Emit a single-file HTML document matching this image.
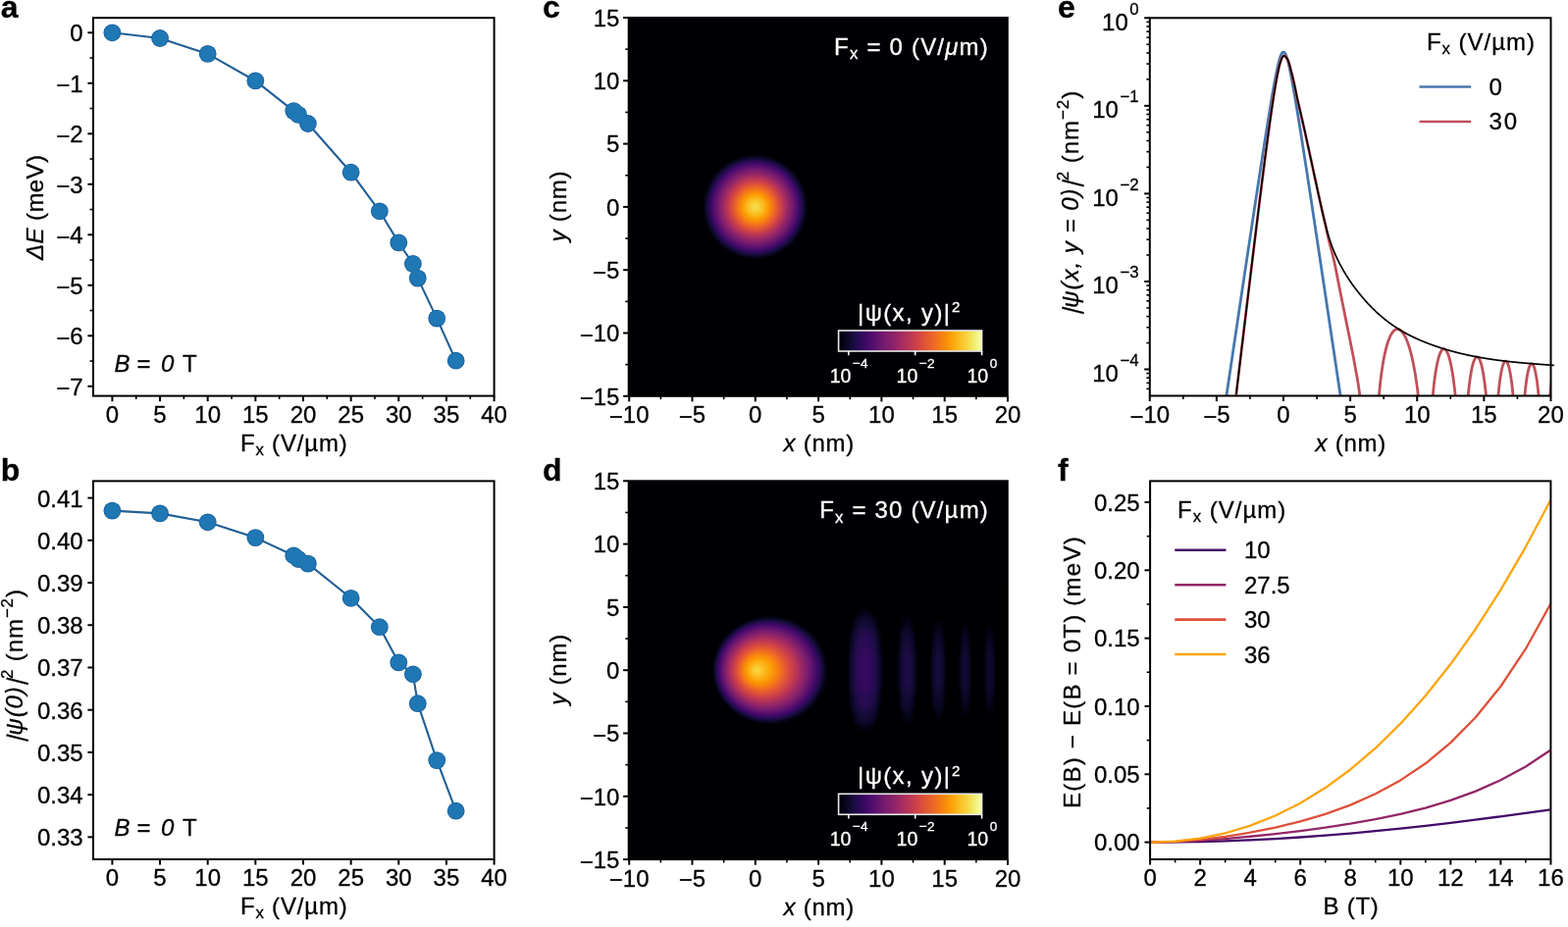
<!DOCTYPE html>
<html><head><meta charset="utf-8"><title>Figure</title><style>html,body{margin:0;padding:0;background:#fff;}svg{display:block;}text{font-family:"Liberation Sans",Arial,Helvetica,sans-serif;stroke:currentColor;stroke-width:0.3px;}</style></head><body>
<svg width="1598" height="945" viewBox="0 0 1598 945" font-family='"Liberation Sans", Arial, Helvetica, sans-serif'><defs><radialGradient id="gc" gradientUnits="userSpaceOnUse" cx="769.8" cy="210.9" r="53.88"><stop offset="0" stop-color="#f5db4c"/><stop offset="0.03" stop-color="#f5d949"/><stop offset="0.05" stop-color="#f6d543"/><stop offset="0.08" stop-color="#f8cf3a"/><stop offset="0.1" stop-color="#f9c932"/><stop offset="0.12" stop-color="#fac42a"/><stop offset="0.15" stop-color="#fbbc21"/><stop offset="0.18" stop-color="#fcb216"/><stop offset="0.2" stop-color="#fca80d"/><stop offset="0.23" stop-color="#fc9f07"/><stop offset="0.25" stop-color="#fb9606"/><stop offset="0.28" stop-color="#f98c0a"/><stop offset="0.3" stop-color="#f78212"/><stop offset="0.33" stop-color="#f37819"/><stop offset="0.35" stop-color="#ef6e21"/><stop offset="0.38" stop-color="#eb6429"/><stop offset="0.4" stop-color="#e55c30"/><stop offset="0.43" stop-color="#de5238"/><stop offset="0.45" stop-color="#d74b3f"/><stop offset="0.48" stop-color="#ce4347"/><stop offset="0.5" stop-color="#c63d4d"/><stop offset="0.53" stop-color="#bc3754"/><stop offset="0.55" stop-color="#b1325a"/><stop offset="0.58" stop-color="#a82e5f"/><stop offset="0.6" stop-color="#9d2964"/><stop offset="0.62" stop-color="#932667"/><stop offset="0.65" stop-color="#88226a"/><stop offset="0.68" stop-color="#7f1e6c"/><stop offset="0.7" stop-color="#751b6e"/><stop offset="0.73" stop-color="#6a176e"/><stop offset="0.75" stop-color="#5f136e"/><stop offset="0.78" stop-color="#550f6d"/><stop offset="0.8" stop-color="#4a0c6b"/><stop offset="0.83" stop-color="#3e0966"/><stop offset="0.85" stop-color="#310a5c"/><stop offset="0.88" stop-color="#240c4f"/><stop offset="0.9" stop-color="#190c3e"/><stop offset="0.93" stop-color="#10092d"/><stop offset="0.95" stop-color="#08051d"/><stop offset="0.98" stop-color="#02020c"/><stop offset="1" stop-color="#000004"/></radialGradient><radialGradient id="gd" cx="0.5" cy="0.5" r="0.5" fx="0.38" fy="0.5"><stop offset="0" stop-color="#f6d746"/><stop offset="0.03" stop-color="#f7d13d"/><stop offset="0.05" stop-color="#f9cb35"/><stop offset="0.08" stop-color="#fac62d"/><stop offset="0.1" stop-color="#fac026"/><stop offset="0.12" stop-color="#fbb81d"/><stop offset="0.15" stop-color="#fcb014"/><stop offset="0.18" stop-color="#fcaa0f"/><stop offset="0.2" stop-color="#fca108"/><stop offset="0.23" stop-color="#fb9906"/><stop offset="0.25" stop-color="#fa9207"/><stop offset="0.28" stop-color="#f8890c"/><stop offset="0.3" stop-color="#f68013"/><stop offset="0.33" stop-color="#f3761b"/><stop offset="0.35" stop-color="#ef6e21"/><stop offset="0.38" stop-color="#eb6429"/><stop offset="0.4" stop-color="#e55c30"/><stop offset="0.43" stop-color="#e05536"/><stop offset="0.45" stop-color="#d94d3d"/><stop offset="0.48" stop-color="#d34743"/><stop offset="0.5" stop-color="#cb4149"/><stop offset="0.53" stop-color="#c33b4f"/><stop offset="0.55" stop-color="#bc3754"/><stop offset="0.58" stop-color="#b3325a"/><stop offset="0.6" stop-color="#a92e5e"/><stop offset="0.62" stop-color="#9f2a63"/><stop offset="0.65" stop-color="#952667"/><stop offset="0.68" stop-color="#8a226a"/><stop offset="0.7" stop-color="#801f6c"/><stop offset="0.73" stop-color="#751b6e"/><stop offset="0.75" stop-color="#6a176e"/><stop offset="0.78" stop-color="#5f136e"/><stop offset="0.8" stop-color="#540f6d"/><stop offset="0.83" stop-color="#490b6a"/><stop offset="0.85" stop-color="#3b0964"/><stop offset="0.88" stop-color="#2f0a5b"/><stop offset="0.9" stop-color="#210c4a"/><stop offset="0.93" stop-color="#150b37"/><stop offset="0.95" stop-color="#0b0724"/><stop offset="0.98" stop-color="#040312"/><stop offset="1" stop-color="#000004"/></radialGradient><linearGradient id="gfx" x1="0" y1="0" x2="1" y2="0"><stop offset="0" stop-color="#000000"/><stop offset="0.04" stop-color="#000000"/><stop offset="0.04" stop-color="#010000"/><stop offset="0.05" stop-color="#030000"/><stop offset="0.05" stop-color="#060000"/><stop offset="0.05" stop-color="#080000"/><stop offset="0.05" stop-color="#0a0000"/><stop offset="0.05" stop-color="#0c0000"/><stop offset="0.06" stop-color="#0e0000"/><stop offset="0.06" stop-color="#100000"/><stop offset="0.06" stop-color="#120000"/><stop offset="0.06" stop-color="#130000"/><stop offset="0.07" stop-color="#150000"/><stop offset="0.07" stop-color="#160000"/><stop offset="0.07" stop-color="#180000"/><stop offset="0.07" stop-color="#190000"/><stop offset="0.08" stop-color="#1a0000"/><stop offset="0.08" stop-color="#1c0000"/><stop offset="0.08" stop-color="#1d0000"/><stop offset="0.08" stop-color="#1e0000"/><stop offset="0.09" stop-color="#1f0000"/><stop offset="0.09" stop-color="#200000"/><stop offset="0.09" stop-color="#210000"/><stop offset="0.09" stop-color="#220000"/><stop offset="0.1" stop-color="#230000"/><stop offset="0.1" stop-color="#240000"/><stop offset="0.1" stop-color="#240000"/><stop offset="0.1" stop-color="#250000"/><stop offset="0.11" stop-color="#260000"/><stop offset="0.11" stop-color="#260000"/><stop offset="0.11" stop-color="#270000"/><stop offset="0.11" stop-color="#280000"/><stop offset="0.11" stop-color="#280000"/><stop offset="0.12" stop-color="#290000"/><stop offset="0.12" stop-color="#290000"/><stop offset="0.12" stop-color="#290000"/><stop offset="0.12" stop-color="#2a0000"/><stop offset="0.13" stop-color="#2a0000"/><stop offset="0.13" stop-color="#2a0000"/><stop offset="0.13" stop-color="#2b0000"/><stop offset="0.13" stop-color="#2b0000"/><stop offset="0.14" stop-color="#2b0000"/><stop offset="0.14" stop-color="#2b0000"/><stop offset="0.14" stop-color="#2b0000"/><stop offset="0.14" stop-color="#2c0000"/><stop offset="0.15" stop-color="#2c0000"/><stop offset="0.15" stop-color="#2c0000"/><stop offset="0.15" stop-color="#2c0000"/><stop offset="0.15" stop-color="#2c0000"/><stop offset="0.16" stop-color="#2c0000"/><stop offset="0.16" stop-color="#2c0000"/><stop offset="0.16" stop-color="#2c0000"/><stop offset="0.16" stop-color="#2b0000"/><stop offset="0.16" stop-color="#2b0000"/><stop offset="0.17" stop-color="#2b0000"/><stop offset="0.17" stop-color="#2b0000"/><stop offset="0.17" stop-color="#2a0000"/><stop offset="0.17" stop-color="#2a0000"/><stop offset="0.18" stop-color="#2a0000"/><stop offset="0.18" stop-color="#290000"/><stop offset="0.18" stop-color="#290000"/><stop offset="0.18" stop-color="#290000"/><stop offset="0.19" stop-color="#280000"/><stop offset="0.19" stop-color="#280000"/><stop offset="0.19" stop-color="#270000"/><stop offset="0.19" stop-color="#260000"/><stop offset="0.2" stop-color="#260000"/><stop offset="0.2" stop-color="#250000"/><stop offset="0.2" stop-color="#240000"/><stop offset="0.2" stop-color="#240000"/><stop offset="0.21" stop-color="#230000"/><stop offset="0.21" stop-color="#220000"/><stop offset="0.21" stop-color="#210000"/><stop offset="0.21" stop-color="#200000"/><stop offset="0.21" stop-color="#1f0000"/><stop offset="0.22" stop-color="#1e0000"/><stop offset="0.22" stop-color="#1d0000"/><stop offset="0.22" stop-color="#1c0000"/><stop offset="0.22" stop-color="#1b0000"/><stop offset="0.23" stop-color="#190000"/><stop offset="0.23" stop-color="#180000"/><stop offset="0.23" stop-color="#170000"/><stop offset="0.23" stop-color="#150000"/><stop offset="0.24" stop-color="#140000"/><stop offset="0.24" stop-color="#120000"/><stop offset="0.24" stop-color="#100000"/><stop offset="0.24" stop-color="#0e0000"/><stop offset="0.25" stop-color="#0d0000"/><stop offset="0.25" stop-color="#0b0000"/><stop offset="0.25" stop-color="#080000"/><stop offset="0.25" stop-color="#060000"/><stop offset="0.26" stop-color="#040000"/><stop offset="0.26" stop-color="#010000"/><stop offset="0.26" stop-color="#000000"/><stop offset="0.34" stop-color="#000000"/><stop offset="0.34" stop-color="#020000"/><stop offset="0.34" stop-color="#040000"/><stop offset="0.34" stop-color="#070000"/><stop offset="0.35" stop-color="#090000"/><stop offset="0.35" stop-color="#0b0000"/><stop offset="0.35" stop-color="#0d0000"/><stop offset="0.35" stop-color="#0f0000"/><stop offset="0.36" stop-color="#110000"/><stop offset="0.36" stop-color="#130000"/><stop offset="0.36" stop-color="#140000"/><stop offset="0.36" stop-color="#150000"/><stop offset="0.37" stop-color="#170000"/><stop offset="0.37" stop-color="#180000"/><stop offset="0.37" stop-color="#190000"/><stop offset="0.37" stop-color="#1a0000"/><stop offset="0.37" stop-color="#1b0000"/><stop offset="0.38" stop-color="#1c0000"/><stop offset="0.38" stop-color="#1c0000"/><stop offset="0.38" stop-color="#1d0000"/><stop offset="0.38" stop-color="#1d0000"/><stop offset="0.39" stop-color="#1e0000"/><stop offset="0.39" stop-color="#1e0000"/><stop offset="0.39" stop-color="#1f0000"/><stop offset="0.39" stop-color="#1f0000"/><stop offset="0.4" stop-color="#1f0000"/><stop offset="0.4" stop-color="#1f0000"/><stop offset="0.4" stop-color="#1f0000"/><stop offset="0.4" stop-color="#1f0000"/><stop offset="0.41" stop-color="#1f0000"/><stop offset="0.41" stop-color="#1f0000"/><stop offset="0.41" stop-color="#1e0000"/><stop offset="0.41" stop-color="#1e0000"/><stop offset="0.42" stop-color="#1e0000"/><stop offset="0.42" stop-color="#1d0000"/><stop offset="0.42" stop-color="#1c0000"/><stop offset="0.42" stop-color="#1c0000"/><stop offset="0.42" stop-color="#1b0000"/><stop offset="0.43" stop-color="#1a0000"/><stop offset="0.43" stop-color="#190000"/><stop offset="0.43" stop-color="#180000"/><stop offset="0.43" stop-color="#170000"/><stop offset="0.44" stop-color="#160000"/><stop offset="0.44" stop-color="#140000"/><stop offset="0.44" stop-color="#130000"/><stop offset="0.44" stop-color="#110000"/><stop offset="0.45" stop-color="#100000"/><stop offset="0.45" stop-color="#0e0000"/><stop offset="0.45" stop-color="#0c0000"/><stop offset="0.45" stop-color="#0a0000"/><stop offset="0.46" stop-color="#070000"/><stop offset="0.46" stop-color="#050000"/><stop offset="0.46" stop-color="#020000"/><stop offset="0.46" stop-color="#000000"/><stop offset="0.53" stop-color="#000000"/><stop offset="0.53" stop-color="#010000"/><stop offset="0.54" stop-color="#030000"/><stop offset="0.54" stop-color="#060000"/><stop offset="0.54" stop-color="#080000"/><stop offset="0.54" stop-color="#0b0000"/><stop offset="0.55" stop-color="#0c0000"/><stop offset="0.55" stop-color="#0e0000"/><stop offset="0.55" stop-color="#100000"/><stop offset="0.55" stop-color="#110000"/><stop offset="0.56" stop-color="#130000"/><stop offset="0.56" stop-color="#140000"/><stop offset="0.56" stop-color="#150000"/><stop offset="0.56" stop-color="#160000"/><stop offset="0.57" stop-color="#170000"/><stop offset="0.57" stop-color="#180000"/><stop offset="0.57" stop-color="#180000"/><stop offset="0.57" stop-color="#190000"/><stop offset="0.58" stop-color="#190000"/><stop offset="0.58" stop-color="#1a0000"/><stop offset="0.58" stop-color="#1a0000"/><stop offset="0.58" stop-color="#1a0000"/><stop offset="0.58" stop-color="#1a0000"/><stop offset="0.59" stop-color="#1a0000"/><stop offset="0.59" stop-color="#1a0000"/><stop offset="0.59" stop-color="#1a0000"/><stop offset="0.59" stop-color="#190000"/><stop offset="0.6" stop-color="#190000"/><stop offset="0.6" stop-color="#180000"/><stop offset="0.6" stop-color="#170000"/><stop offset="0.6" stop-color="#170000"/><stop offset="0.61" stop-color="#160000"/><stop offset="0.61" stop-color="#150000"/><stop offset="0.61" stop-color="#140000"/><stop offset="0.61" stop-color="#120000"/><stop offset="0.62" stop-color="#110000"/><stop offset="0.62" stop-color="#0f0000"/><stop offset="0.62" stop-color="#0e0000"/><stop offset="0.62" stop-color="#0c0000"/><stop offset="0.63" stop-color="#0a0000"/><stop offset="0.63" stop-color="#070000"/><stop offset="0.63" stop-color="#050000"/><stop offset="0.63" stop-color="#020000"/><stop offset="0.63" stop-color="#000000"/><stop offset="0.7" stop-color="#000000"/><stop offset="0.7" stop-color="#030000"/><stop offset="0.71" stop-color="#050000"/><stop offset="0.71" stop-color="#080000"/><stop offset="0.71" stop-color="#0a0000"/><stop offset="0.71" stop-color="#0c0000"/><stop offset="0.72" stop-color="#0e0000"/><stop offset="0.72" stop-color="#100000"/><stop offset="0.72" stop-color="#110000"/><stop offset="0.72" stop-color="#120000"/><stop offset="0.73" stop-color="#140000"/><stop offset="0.73" stop-color="#150000"/><stop offset="0.73" stop-color="#150000"/><stop offset="0.73" stop-color="#160000"/><stop offset="0.74" stop-color="#170000"/><stop offset="0.74" stop-color="#170000"/><stop offset="0.74" stop-color="#170000"/><stop offset="0.74" stop-color="#170000"/><stop offset="0.74" stop-color="#170000"/><stop offset="0.75" stop-color="#170000"/><stop offset="0.75" stop-color="#170000"/><stop offset="0.75" stop-color="#170000"/><stop offset="0.75" stop-color="#160000"/><stop offset="0.76" stop-color="#160000"/><stop offset="0.76" stop-color="#150000"/><stop offset="0.76" stop-color="#140000"/><stop offset="0.76" stop-color="#130000"/><stop offset="0.77" stop-color="#120000"/><stop offset="0.77" stop-color="#100000"/><stop offset="0.77" stop-color="#0f0000"/><stop offset="0.77" stop-color="#0d0000"/><stop offset="0.78" stop-color="#0b0000"/><stop offset="0.78" stop-color="#090000"/><stop offset="0.78" stop-color="#060000"/><stop offset="0.78" stop-color="#030000"/><stop offset="0.79" stop-color="#000000"/><stop offset="0.85" stop-color="#000000"/><stop offset="0.85" stop-color="#020000"/><stop offset="0.85" stop-color="#050000"/><stop offset="0.86" stop-color="#070000"/><stop offset="0.86" stop-color="#090000"/><stop offset="0.86" stop-color="#0b0000"/><stop offset="0.86" stop-color="#0d0000"/><stop offset="0.87" stop-color="#0f0000"/><stop offset="0.87" stop-color="#100000"/><stop offset="0.87" stop-color="#110000"/><stop offset="0.87" stop-color="#120000"/><stop offset="0.88" stop-color="#130000"/><stop offset="0.88" stop-color="#140000"/><stop offset="0.88" stop-color="#150000"/><stop offset="0.88" stop-color="#150000"/><stop offset="0.89" stop-color="#150000"/><stop offset="0.89" stop-color="#160000"/><stop offset="0.89" stop-color="#160000"/><stop offset="0.89" stop-color="#160000"/><stop offset="0.89" stop-color="#150000"/><stop offset="0.9" stop-color="#150000"/><stop offset="0.9" stop-color="#140000"/><stop offset="0.9" stop-color="#140000"/><stop offset="0.9" stop-color="#130000"/><stop offset="0.91" stop-color="#120000"/><stop offset="0.91" stop-color="#110000"/><stop offset="0.91" stop-color="#0f0000"/><stop offset="0.91" stop-color="#0e0000"/><stop offset="0.92" stop-color="#0c0000"/><stop offset="0.92" stop-color="#0a0000"/><stop offset="0.92" stop-color="#080000"/><stop offset="0.92" stop-color="#060000"/><stop offset="0.93" stop-color="#030000"/><stop offset="0.93" stop-color="#000000"/><stop offset="1" stop-color="#000000"/></linearGradient><linearGradient id="gfy" x1="0" y1="0" x2="0" y2="1"><stop offset="0" stop-color="#fff" stop-opacity="0.6"/><stop offset="0.04" stop-color="#fff" stop-opacity="0.67"/><stop offset="0.07" stop-color="#fff" stop-opacity="0.73"/><stop offset="0.11" stop-color="#fff" stop-opacity="0.79"/><stop offset="0.14" stop-color="#fff" stop-opacity="0.83"/><stop offset="0.18" stop-color="#fff" stop-opacity="0.87"/><stop offset="0.21" stop-color="#fff" stop-opacity="0.91"/><stop offset="0.25" stop-color="#fff" stop-opacity="0.93"/><stop offset="0.29" stop-color="#fff" stop-opacity="0.96"/><stop offset="0.32" stop-color="#fff" stop-opacity="0.97"/><stop offset="0.36" stop-color="#fff" stop-opacity="0.98"/><stop offset="0.39" stop-color="#fff" stop-opacity="0.99"/><stop offset="0.43" stop-color="#fff" stop-opacity="1"/><stop offset="0.46" stop-color="#fff" stop-opacity="1"/><stop offset="0.5" stop-color="#fff" stop-opacity="1"/><stop offset="0.54" stop-color="#fff" stop-opacity="1"/><stop offset="0.57" stop-color="#fff" stop-opacity="1"/><stop offset="0.61" stop-color="#fff" stop-opacity="0.99"/><stop offset="0.64" stop-color="#fff" stop-opacity="0.98"/><stop offset="0.68" stop-color="#fff" stop-opacity="0.97"/><stop offset="0.71" stop-color="#fff" stop-opacity="0.96"/><stop offset="0.75" stop-color="#fff" stop-opacity="0.93"/><stop offset="0.79" stop-color="#fff" stop-opacity="0.91"/><stop offset="0.82" stop-color="#fff" stop-opacity="0.87"/><stop offset="0.86" stop-color="#fff" stop-opacity="0.83"/><stop offset="0.89" stop-color="#fff" stop-opacity="0.79"/><stop offset="0.93" stop-color="#fff" stop-opacity="0.73"/><stop offset="0.96" stop-color="#fff" stop-opacity="0.67"/><stop offset="1" stop-color="#fff" stop-opacity="0.6"/></linearGradient><mask id="mfy" maskUnits="userSpaceOnUse" x="855.96" y="593.18" width="171.68" height="180.04" style="mask-type:alpha"><rect x="855.96" y="593.18" width="171.68" height="180.04" fill="url(#gfy)"/></mask><filter id="finf" filterUnits="userSpaceOnUse" x="855.96" y="593.18" width="170.84" height="180.04" color-interpolation-filters="sRGB"><feColorMatrix type="matrix" values="1 0 0 1 -1  1 0 0 1 -1  1 0 0 1 -1  0 0 0 0 1"/><feComponentTransfer><feFuncR type="table" tableValues="0.0015 0.0033 0.0077 0.0140 0.0194 0.0294 0.0423 0.0516 0.0663 0.0820 0.0930 0.1105 0.1293 0.1491 0.1627 0.1834 0.2042 0.2179 0.2383 0.2582 0.2713 0.2908 0.3099 0.3226 0.3415 0.3603 0.3790 0.3915 0.4101 0.4288 0.4412 0.4599 0.4786 0.4910 0.5097 0.5284 0.5472 0.5596 0.5783 0.5969 0.6093 0.6278 0.6463 0.6585 0.6766 0.6946 0.7065 0.7241 0.7414 0.7584 0.7696 0.7859 0.8019 0.8122 0.8274 0.8420 0.8514 0.8650 0.8780 0.8863 0.8982 0.9094 0.9199 0.9265 0.9357 0.9443 0.9496 0.9569 0.9634 0.9673 0.9726 0.9771 0.9808 0.9829 0.9853 0.9870 0.9876 0.9879 0.9875 0.9867 0.9849 0.9822 0.9800 0.9761 0.9715 0.9662 0.9625 0.9568 0.9515 0.9487 0.9464 0.9479 0.9517 0.9618 0.9765 0.9884"/><feFuncG type="table" tableValues="0.0005 0.0022 0.0061 0.0112 0.0151 0.0215 0.0281 0.0325 0.0385 0.0433 0.0456 0.0474 0.0473 0.0455 0.0436 0.0403 0.0376 0.0366 0.0366 0.0386 0.0409 0.0456 0.0514 0.0556 0.0623 0.0692 0.0763 0.0809 0.0879 0.0948 0.0993 0.1061 0.1128 0.1172 0.1238 0.1303 0.1369 0.1413 0.1480 0.1548 0.1595 0.1666 0.1739 0.1790 0.1868 0.1950 0.2007 0.2097 0.2191 0.2291 0.2361 0.2471 0.2587 0.2668 0.2795 0.2929 0.3023 0.3168 0.3321 0.3426 0.3589 0.3759 0.3934 0.4054 0.4238 0.4428 0.4557 0.4754 0.4955 0.5091 0.5298 0.5508 0.5722 0.5866 0.6084 0.6305 0.6453 0.6677 0.6904 0.7055 0.7284 0.7514 0.7668 0.7900 0.8131 0.8362 0.8515 0.8741 0.8962 0.9105 0.9308 0.9493 0.9606 0.9759 0.9898 0.9984"/><feFuncB type="table" tableValues="0.0139 0.0242 0.0468 0.0719 0.0888 0.1146 0.1411 0.1593 0.1870 0.2153 0.2344 0.2629 0.2908 0.3171 0.3333 0.3550 0.3732 0.3835 0.3964 0.4065 0.4120 0.4186 0.4237 0.4264 0.4294 0.4315 0.4327 0.4331 0.4331 0.4324 0.4316 0.4298 0.4275 0.4256 0.4222 0.4181 0.4135 0.4101 0.4044 0.3981 0.3936 0.3863 0.3784 0.3727 0.3638 0.3544 0.3478 0.3374 0.3266 0.3153 0.3075 0.2955 0.2831 0.2747 0.2617 0.2486 0.2396 0.2261 0.2123 0.2030 0.1889 0.1746 0.1601 0.1503 0.1354 0.1204 0.1102 0.0947 0.0791 0.0687 0.0533 0.0391 0.0285 0.0247 0.0242 0.0309 0.0399 0.0583 0.0800 0.0957 0.1208 0.1476 0.1664 0.1960 0.2277 0.2615 0.2855 0.3240 0.3656 0.3953 0.4424 0.4914 0.5242 0.5719 0.6168 0.6449"/></feComponentTransfer></filter><linearGradient id="gcb" x1="0" y1="0" x2="1" y2="0"><stop offset="0" stop-color="#000004"/><stop offset="0.03" stop-color="#040312"/><stop offset="0.06" stop-color="#0b0724"/><stop offset="0.09" stop-color="#150b37"/><stop offset="0.12" stop-color="#210c4a"/><stop offset="0.16" stop-color="#2f0a5b"/><stop offset="0.19" stop-color="#3d0965"/><stop offset="0.22" stop-color="#4a0c6b"/><stop offset="0.25" stop-color="#57106e"/><stop offset="0.28" stop-color="#64156e"/><stop offset="0.31" stop-color="#71196e"/><stop offset="0.34" stop-color="#7d1e6d"/><stop offset="0.38" stop-color="#8a226a"/><stop offset="0.41" stop-color="#972766"/><stop offset="0.44" stop-color="#a32c61"/><stop offset="0.47" stop-color="#b0315b"/><stop offset="0.5" stop-color="#bc3754"/><stop offset="0.53" stop-color="#c73e4c"/><stop offset="0.56" stop-color="#d24644"/><stop offset="0.59" stop-color="#db503b"/><stop offset="0.62" stop-color="#e45a31"/><stop offset="0.66" stop-color="#eb6628"/><stop offset="0.69" stop-color="#f1731d"/><stop offset="0.72" stop-color="#f68013"/><stop offset="0.75" stop-color="#f98e09"/><stop offset="0.78" stop-color="#fb9d07"/><stop offset="0.81" stop-color="#fcac11"/><stop offset="0.84" stop-color="#fbbc21"/><stop offset="0.88" stop-color="#f9cb35"/><stop offset="0.91" stop-color="#f5db4c"/><stop offset="0.94" stop-color="#f2ea69"/><stop offset="0.97" stop-color="#f3f68a"/><stop offset="1" stop-color="#fcffa4"/></linearGradient><clipPath id="ce"><rect x="1171.8" y="18.3" width="408.7" height="385.2"/></clipPath><clipPath id="ce2"><rect x="1171.8" y="18.3" width="413.7" height="385.2"/></clipPath><clipPath id="cf"><rect x="1172.1" y="490.4" width="410.3" height="385.6"/></clipPath></defs><rect width="1598" height="945" fill="#fff"/>
<text x="0.8" y="18" font-size="32" font-weight="bold">a</text>
<text x="0.8" y="490" font-size="32" font-weight="bold">b</text>
<text x="553" y="18" font-size="32" font-weight="bold">c</text>
<text x="553" y="490" font-size="32" font-weight="bold">d</text>
<text x="1078" y="18" font-size="32" font-weight="bold">e</text>
<text x="1078" y="490" font-size="32" font-weight="bold">f</text>
<g>
<polyline points="114.4,33.3 163.05,39 211.7,54.9 260.35,82.4 299.27,113.1 304.13,116.9 313.87,126 357.65,175.7 386.84,215.3 406.3,247.4 420.89,269 425.76,283.6 445.22,324.6 464.68,367.7" fill="none" stroke="#215f95" stroke-width="2.1" stroke-linejoin="round" stroke-linecap="butt"/>
<circle cx="114.4" cy="33.3" r="8.9" fill="#1b5f9a"/>
<circle cx="163.05" cy="39" r="8.9" fill="#1b5f9a"/>
<circle cx="211.7" cy="54.9" r="8.9" fill="#1b5f9a"/>
<circle cx="260.35" cy="82.4" r="8.9" fill="#1b5f9a"/>
<circle cx="299.27" cy="113.1" r="8.9" fill="#1b5f9a"/>
<circle cx="304.13" cy="116.9" r="8.9" fill="#1b5f9a"/>
<circle cx="313.87" cy="126" r="8.9" fill="#1b5f9a"/>
<circle cx="357.65" cy="175.7" r="8.9" fill="#1b5f9a"/>
<circle cx="386.84" cy="215.3" r="8.9" fill="#1b5f9a"/>
<circle cx="406.3" cy="247.4" r="8.9" fill="#1b5f9a"/>
<circle cx="420.89" cy="269" r="8.9" fill="#1b5f9a"/>
<circle cx="425.76" cy="283.6" r="8.9" fill="#1b5f9a"/>
<circle cx="445.22" cy="324.6" r="8.9" fill="#1b5f9a"/>
<circle cx="464.68" cy="367.7" r="8.9" fill="#1b5f9a"/>
<circle cx="114.4" cy="33.3" r="8.1" fill="#1f77b4"/>
<circle cx="163.05" cy="39" r="8.1" fill="#1f77b4"/>
<circle cx="211.7" cy="54.9" r="8.1" fill="#1f77b4"/>
<circle cx="260.35" cy="82.4" r="8.1" fill="#1f77b4"/>
<circle cx="299.27" cy="113.1" r="8.1" fill="#1f77b4"/>
<circle cx="304.13" cy="116.9" r="8.1" fill="#1f77b4"/>
<circle cx="313.87" cy="126" r="8.1" fill="#1f77b4"/>
<circle cx="357.65" cy="175.7" r="8.1" fill="#1f77b4"/>
<circle cx="386.84" cy="215.3" r="8.1" fill="#1f77b4"/>
<circle cx="406.3" cy="247.4" r="8.1" fill="#1f77b4"/>
<circle cx="420.89" cy="269" r="8.1" fill="#1f77b4"/>
<circle cx="425.76" cy="283.6" r="8.1" fill="#1f77b4"/>
<circle cx="445.22" cy="324.6" r="8.1" fill="#1f77b4"/>
<circle cx="464.68" cy="367.7" r="8.1" fill="#1f77b4"/>
</g>
<rect x="95" y="18.2" width="408.6" height="385.4" fill="none" stroke="#000" stroke-width="2"/>
<line x1="114.4" y1="403.6" x2="114.4" y2="409.2" stroke="#000" stroke-width="2"/>
<line x1="163.05" y1="403.6" x2="163.05" y2="409.2" stroke="#000" stroke-width="2"/>
<line x1="211.7" y1="403.6" x2="211.7" y2="409.2" stroke="#000" stroke-width="2"/>
<line x1="260.35" y1="403.6" x2="260.35" y2="409.2" stroke="#000" stroke-width="2"/>
<line x1="309" y1="403.6" x2="309" y2="409.2" stroke="#000" stroke-width="2"/>
<line x1="357.65" y1="403.6" x2="357.65" y2="409.2" stroke="#000" stroke-width="2"/>
<line x1="406.3" y1="403.6" x2="406.3" y2="409.2" stroke="#000" stroke-width="2"/>
<line x1="454.95" y1="403.6" x2="454.95" y2="409.2" stroke="#000" stroke-width="2"/>
<line x1="503.6" y1="403.6" x2="503.6" y2="409.2" stroke="#000" stroke-width="2"/>
<line x1="138.73" y1="403.6" x2="138.73" y2="407" stroke="#000" stroke-width="1.6"/>
<line x1="187.38" y1="403.6" x2="187.38" y2="407" stroke="#000" stroke-width="1.6"/>
<line x1="236.03" y1="403.6" x2="236.03" y2="407" stroke="#000" stroke-width="1.6"/>
<line x1="284.68" y1="403.6" x2="284.68" y2="407" stroke="#000" stroke-width="1.6"/>
<line x1="333.33" y1="403.6" x2="333.33" y2="407" stroke="#000" stroke-width="1.6"/>
<line x1="381.98" y1="403.6" x2="381.98" y2="407" stroke="#000" stroke-width="1.6"/>
<line x1="430.62" y1="403.6" x2="430.62" y2="407" stroke="#000" stroke-width="1.6"/>
<line x1="479.27" y1="403.6" x2="479.27" y2="407" stroke="#000" stroke-width="1.6"/>
<line x1="89.4" y1="33.3" x2="95" y2="33.3" stroke="#000" stroke-width="2"/>
<line x1="89.4" y1="84.8" x2="95" y2="84.8" stroke="#000" stroke-width="2"/>
<line x1="89.4" y1="136.3" x2="95" y2="136.3" stroke="#000" stroke-width="2"/>
<line x1="89.4" y1="187.8" x2="95" y2="187.8" stroke="#000" stroke-width="2"/>
<line x1="89.4" y1="239.3" x2="95" y2="239.3" stroke="#000" stroke-width="2"/>
<line x1="89.4" y1="290.8" x2="95" y2="290.8" stroke="#000" stroke-width="2"/>
<line x1="89.4" y1="342.3" x2="95" y2="342.3" stroke="#000" stroke-width="2"/>
<line x1="89.4" y1="393.8" x2="95" y2="393.8" stroke="#000" stroke-width="2"/>
<line x1="91.6" y1="59.05" x2="95" y2="59.05" stroke="#000" stroke-width="1.6"/>
<line x1="91.6" y1="110.55" x2="95" y2="110.55" stroke="#000" stroke-width="1.6"/>
<line x1="91.6" y1="162.05" x2="95" y2="162.05" stroke="#000" stroke-width="1.6"/>
<line x1="91.6" y1="213.55" x2="95" y2="213.55" stroke="#000" stroke-width="1.6"/>
<line x1="91.6" y1="265.05" x2="95" y2="265.05" stroke="#000" stroke-width="1.6"/>
<line x1="91.6" y1="316.55" x2="95" y2="316.55" stroke="#000" stroke-width="1.6"/>
<line x1="91.6" y1="368.05" x2="95" y2="368.05" stroke="#000" stroke-width="1.6"/>
<text x="114.4" y="431.2" font-size="24" text-anchor="middle">0</text>
<text x="163.05" y="431.2" font-size="24" text-anchor="middle">5</text>
<text x="211.7" y="431.2" font-size="24" text-anchor="middle">10</text>
<text x="260.35" y="431.2" font-size="24" text-anchor="middle">15</text>
<text x="309" y="431.2" font-size="24" text-anchor="middle">20</text>
<text x="357.65" y="431.2" font-size="24" text-anchor="middle">25</text>
<text x="406.3" y="431.2" font-size="24" text-anchor="middle">30</text>
<text x="454.95" y="431.2" font-size="24" text-anchor="middle">35</text>
<text x="503.6" y="431.2" font-size="24" text-anchor="middle">40</text>
<text x="84.6" y="42" font-size="24" text-anchor="end">0</text>
<text x="84.6" y="93.5" font-size="24" text-anchor="end"><tspan dy="1.8">−</tspan><tspan dy="-1.8">1</tspan></text>
<text x="84.6" y="145" font-size="24" text-anchor="end"><tspan dy="1.8">−</tspan><tspan dy="-1.8">2</tspan></text>
<text x="84.6" y="196.5" font-size="24" text-anchor="end"><tspan dy="1.8">−</tspan><tspan dy="-1.8">3</tspan></text>
<text x="84.6" y="248" font-size="24" text-anchor="end"><tspan dy="1.8">−</tspan><tspan dy="-1.8">4</tspan></text>
<text x="84.6" y="299.5" font-size="24" text-anchor="end"><tspan dy="1.8">−</tspan><tspan dy="-1.8">5</tspan></text>
<text x="84.6" y="351" font-size="24" text-anchor="end"><tspan dy="1.8">−</tspan><tspan dy="-1.8">6</tspan></text>
<text x="84.6" y="402.5" font-size="24" text-anchor="end"><tspan dy="1.8">−</tspan><tspan dy="-1.8">7</tspan></text>
<text x="299.3" y="460" font-size="24" text-anchor="middle" textLength="108.8" lengthAdjust="spacing">F<tspan dy="4" font-size="16.8">x</tspan><tspan dy="-4"> (V/µm)</tspan></text>
<text x="44" y="211.5" font-size="24" text-anchor="middle" transform="rotate(-90 44 211.5)" textLength="107" lengthAdjust="spacing"><tspan font-style="italic">ΔE</tspan> (meV)</text>
<text x="116.6" y="379.2" font-size="24"><tspan font-style="italic">B</tspan><tspan x="139.6">=</tspan><tspan font-style="italic" x="164">0</tspan><tspan x="185.9">T</tspan></text>
<g>
<polyline points="114.4,520.6 163.05,523.4 211.7,532.3 260.35,548.1 299.27,566.3 304.13,570 313.87,574.6 357.65,609.8 386.84,639.2 406.3,675.4 420.89,687.3 425.76,717.2 445.22,775.1 464.68,826.7" fill="none" stroke="#215f95" stroke-width="2.1" stroke-linejoin="round" stroke-linecap="butt"/>
<circle cx="114.4" cy="520.6" r="8.9" fill="#1b5f9a"/>
<circle cx="163.05" cy="523.4" r="8.9" fill="#1b5f9a"/>
<circle cx="211.7" cy="532.3" r="8.9" fill="#1b5f9a"/>
<circle cx="260.35" cy="548.1" r="8.9" fill="#1b5f9a"/>
<circle cx="299.27" cy="566.3" r="8.9" fill="#1b5f9a"/>
<circle cx="304.13" cy="570" r="8.9" fill="#1b5f9a"/>
<circle cx="313.87" cy="574.6" r="8.9" fill="#1b5f9a"/>
<circle cx="357.65" cy="609.8" r="8.9" fill="#1b5f9a"/>
<circle cx="386.84" cy="639.2" r="8.9" fill="#1b5f9a"/>
<circle cx="406.3" cy="675.4" r="8.9" fill="#1b5f9a"/>
<circle cx="420.89" cy="687.3" r="8.9" fill="#1b5f9a"/>
<circle cx="425.76" cy="717.2" r="8.9" fill="#1b5f9a"/>
<circle cx="445.22" cy="775.1" r="8.9" fill="#1b5f9a"/>
<circle cx="464.68" cy="826.7" r="8.9" fill="#1b5f9a"/>
<circle cx="114.4" cy="520.6" r="8.1" fill="#1f77b4"/>
<circle cx="163.05" cy="523.4" r="8.1" fill="#1f77b4"/>
<circle cx="211.7" cy="532.3" r="8.1" fill="#1f77b4"/>
<circle cx="260.35" cy="548.1" r="8.1" fill="#1f77b4"/>
<circle cx="299.27" cy="566.3" r="8.1" fill="#1f77b4"/>
<circle cx="304.13" cy="570" r="8.1" fill="#1f77b4"/>
<circle cx="313.87" cy="574.6" r="8.1" fill="#1f77b4"/>
<circle cx="357.65" cy="609.8" r="8.1" fill="#1f77b4"/>
<circle cx="386.84" cy="639.2" r="8.1" fill="#1f77b4"/>
<circle cx="406.3" cy="675.4" r="8.1" fill="#1f77b4"/>
<circle cx="420.89" cy="687.3" r="8.1" fill="#1f77b4"/>
<circle cx="425.76" cy="717.2" r="8.1" fill="#1f77b4"/>
<circle cx="445.22" cy="775.1" r="8.1" fill="#1f77b4"/>
<circle cx="464.68" cy="826.7" r="8.1" fill="#1f77b4"/>
</g>
<rect x="95" y="490.4" width="408.6" height="385.6" fill="none" stroke="#000" stroke-width="2"/>
<line x1="114.4" y1="876" x2="114.4" y2="881.6" stroke="#000" stroke-width="2"/>
<line x1="163.05" y1="876" x2="163.05" y2="881.6" stroke="#000" stroke-width="2"/>
<line x1="211.7" y1="876" x2="211.7" y2="881.6" stroke="#000" stroke-width="2"/>
<line x1="260.35" y1="876" x2="260.35" y2="881.6" stroke="#000" stroke-width="2"/>
<line x1="309" y1="876" x2="309" y2="881.6" stroke="#000" stroke-width="2"/>
<line x1="357.65" y1="876" x2="357.65" y2="881.6" stroke="#000" stroke-width="2"/>
<line x1="406.3" y1="876" x2="406.3" y2="881.6" stroke="#000" stroke-width="2"/>
<line x1="454.95" y1="876" x2="454.95" y2="881.6" stroke="#000" stroke-width="2"/>
<line x1="503.6" y1="876" x2="503.6" y2="881.6" stroke="#000" stroke-width="2"/>
<line x1="89.4" y1="507.6" x2="95" y2="507.6" stroke="#000" stroke-width="2"/>
<line x1="89.4" y1="550.82" x2="95" y2="550.82" stroke="#000" stroke-width="2"/>
<line x1="89.4" y1="594.04" x2="95" y2="594.04" stroke="#000" stroke-width="2"/>
<line x1="89.4" y1="637.26" x2="95" y2="637.26" stroke="#000" stroke-width="2"/>
<line x1="89.4" y1="680.48" x2="95" y2="680.48" stroke="#000" stroke-width="2"/>
<line x1="89.4" y1="723.7" x2="95" y2="723.7" stroke="#000" stroke-width="2"/>
<line x1="89.4" y1="766.92" x2="95" y2="766.92" stroke="#000" stroke-width="2"/>
<line x1="89.4" y1="810.14" x2="95" y2="810.14" stroke="#000" stroke-width="2"/>
<line x1="89.4" y1="853.36" x2="95" y2="853.36" stroke="#000" stroke-width="2"/>
<text x="114.4" y="903.2" font-size="24" text-anchor="middle">0</text>
<text x="163.05" y="903.2" font-size="24" text-anchor="middle">5</text>
<text x="211.7" y="903.2" font-size="24" text-anchor="middle">10</text>
<text x="260.35" y="903.2" font-size="24" text-anchor="middle">15</text>
<text x="309" y="903.2" font-size="24" text-anchor="middle">20</text>
<text x="357.65" y="903.2" font-size="24" text-anchor="middle">25</text>
<text x="406.3" y="903.2" font-size="24" text-anchor="middle">30</text>
<text x="454.95" y="903.2" font-size="24" text-anchor="middle">35</text>
<text x="503.6" y="903.2" font-size="24" text-anchor="middle">40</text>
<text x="84.6" y="516.5" font-size="24" text-anchor="end">0.41</text>
<text x="84.6" y="559.72" font-size="24" text-anchor="end">0.40</text>
<text x="84.6" y="602.94" font-size="24" text-anchor="end">0.39</text>
<text x="84.6" y="646.16" font-size="24" text-anchor="end">0.38</text>
<text x="84.6" y="689.38" font-size="24" text-anchor="end">0.37</text>
<text x="84.6" y="732.6" font-size="24" text-anchor="end">0.36</text>
<text x="84.6" y="775.82" font-size="24" text-anchor="end">0.35</text>
<text x="84.6" y="819.04" font-size="24" text-anchor="end">0.34</text>
<text x="84.6" y="862.26" font-size="24" text-anchor="end">0.33</text>
<text x="299.3" y="931.6" font-size="24" text-anchor="middle" textLength="108.8" lengthAdjust="spacing">F<tspan dy="4" font-size="16.8">x</tspan><tspan dy="-4"> (V/µm)</tspan></text>
<text x="22.8" y="679" font-size="24" text-anchor="middle" transform="rotate(-90 22.8 679)" textLength="155.8" lengthAdjust="spacing"><tspan font-style="italic" rotate="14">|</tspan><tspan font-style="italic">ψ(0)</tspan><tspan font-style="italic" rotate="14">|</tspan><tspan dy="-9.5" font-size="16.8">2</tspan><tspan dy="9.5"> (nm</tspan><tspan dy="-9.5" font-size="16.8">−2</tspan><tspan dy="9.5">)</tspan></text>
<text x="116.6" y="851.5" font-size="24"><tspan font-style="italic">B</tspan><tspan x="139.6">=</tspan><tspan font-style="italic" x="164">0</tspan><tspan x="185.9">T</tspan></text>
<rect x="640.7" y="18" width="386.1" height="385.8" fill="url(#gc)"/>
<rect x="640.7" y="490.3" width="386.1" height="385.8" fill="#000004"/>
<ellipse cx="784.78" cy="683.2" rx="58.96" ry="55.3" fill="url(#gd)"/>
<g filter="url(#finf)"><rect x="855.96" y="593.18" width="171.68" height="180.04" fill="url(#gfx)" mask="url(#mfy)"/></g>
<rect x="640.7" y="18" width="386.1" height="385.8" fill="none" stroke="#000" stroke-width="2"/>
<line x1="641.2" y1="403.8" x2="641.2" y2="409.4" stroke="#000" stroke-width="2"/>
<line x1="705.5" y1="403.8" x2="705.5" y2="409.4" stroke="#000" stroke-width="2"/>
<line x1="769.8" y1="403.8" x2="769.8" y2="409.4" stroke="#000" stroke-width="2"/>
<line x1="834.1" y1="403.8" x2="834.1" y2="409.4" stroke="#000" stroke-width="2"/>
<line x1="898.4" y1="403.8" x2="898.4" y2="409.4" stroke="#000" stroke-width="2"/>
<line x1="962.7" y1="403.8" x2="962.7" y2="409.4" stroke="#000" stroke-width="2"/>
<line x1="1027" y1="403.8" x2="1027" y2="409.4" stroke="#000" stroke-width="2"/>
<line x1="673.35" y1="403.8" x2="673.35" y2="407.2" stroke="#000" stroke-width="1.6"/>
<line x1="737.65" y1="403.8" x2="737.65" y2="407.2" stroke="#000" stroke-width="1.6"/>
<line x1="801.95" y1="403.8" x2="801.95" y2="407.2" stroke="#000" stroke-width="1.6"/>
<line x1="866.25" y1="403.8" x2="866.25" y2="407.2" stroke="#000" stroke-width="1.6"/>
<line x1="930.55" y1="403.8" x2="930.55" y2="407.2" stroke="#000" stroke-width="1.6"/>
<line x1="994.85" y1="403.8" x2="994.85" y2="407.2" stroke="#000" stroke-width="1.6"/>
<line x1="635.1" y1="403.8" x2="640.7" y2="403.8" stroke="#000" stroke-width="2"/>
<line x1="635.1" y1="339.5" x2="640.7" y2="339.5" stroke="#000" stroke-width="2"/>
<line x1="635.1" y1="275.2" x2="640.7" y2="275.2" stroke="#000" stroke-width="2"/>
<line x1="635.1" y1="210.9" x2="640.7" y2="210.9" stroke="#000" stroke-width="2"/>
<line x1="635.1" y1="146.6" x2="640.7" y2="146.6" stroke="#000" stroke-width="2"/>
<line x1="635.1" y1="82.3" x2="640.7" y2="82.3" stroke="#000" stroke-width="2"/>
<line x1="635.1" y1="18" x2="640.7" y2="18" stroke="#000" stroke-width="2"/>
<line x1="637.3" y1="371.65" x2="640.7" y2="371.65" stroke="#000" stroke-width="1.6"/>
<line x1="637.3" y1="307.35" x2="640.7" y2="307.35" stroke="#000" stroke-width="1.6"/>
<line x1="637.3" y1="243.05" x2="640.7" y2="243.05" stroke="#000" stroke-width="1.6"/>
<line x1="637.3" y1="178.75" x2="640.7" y2="178.75" stroke="#000" stroke-width="1.6"/>
<line x1="637.3" y1="114.45" x2="640.7" y2="114.45" stroke="#000" stroke-width="1.6"/>
<line x1="637.3" y1="50.15" x2="640.7" y2="50.15" stroke="#000" stroke-width="1.6"/>
<text x="641.2" y="431.2" font-size="24" text-anchor="middle"><tspan dy="1.8">−</tspan><tspan dy="-1.8">10</tspan></text>
<text x="705.5" y="431.2" font-size="24" text-anchor="middle"><tspan dy="1.8">−</tspan><tspan dy="-1.8">5</tspan></text>
<text x="769.8" y="431.2" font-size="24" text-anchor="middle">0</text>
<text x="834.1" y="431.2" font-size="24" text-anchor="middle">5</text>
<text x="898.4" y="431.2" font-size="24" text-anchor="middle">10</text>
<text x="962.7" y="431.2" font-size="24" text-anchor="middle">15</text>
<text x="1027" y="431.2" font-size="24" text-anchor="middle">20</text>
<text x="631.4" y="412.5" font-size="24" text-anchor="end"><tspan dy="1.8">−</tspan><tspan dy="-1.8">15</tspan></text>
<text x="631.4" y="348.2" font-size="24" text-anchor="end"><tspan dy="1.8">−</tspan><tspan dy="-1.8">10</tspan></text>
<text x="631.4" y="283.9" font-size="24" text-anchor="end"><tspan dy="1.8">−</tspan><tspan dy="-1.8">5</tspan></text>
<text x="631.4" y="219.6" font-size="24" text-anchor="end">0</text>
<text x="631.4" y="155.3" font-size="24" text-anchor="end">5</text>
<text x="631.4" y="91" font-size="24" text-anchor="end">10</text>
<text x="631.4" y="26.7" font-size="24" text-anchor="end">15</text>
<text x="834.4" y="460.2" font-size="24" text-anchor="middle" textLength="71.6" lengthAdjust="spacing"><tspan font-style="italic">x</tspan> (nm)</text>
<text x="577" y="210.4" font-size="24" text-anchor="middle" transform="rotate(-90 577 210.4)" textLength="72" lengthAdjust="spacing"><tspan font-style="italic">y</tspan> (nm)</text>
<text x="1006.8" y="56" font-size="24" text-anchor="end" fill="#fff" color="#fff" textLength="156.7" lengthAdjust="spacing">F<tspan dy="4.4" font-size="16.8">x</tspan><tspan dy="-4.4"> = 0 (V/</tspan><tspan font-style="italic">μ</tspan>m)</text>
<rect x="854.6" y="337" width="146" height="21" fill="url(#gcb)" stroke="#e8e8e8" stroke-width="1.6"/>
<line x1="864.82" y1="358" x2="864.82" y2="362.2" stroke="#fff" stroke-width="1.6"/>
<text x="865.12" y="389.7" font-size="19.6" text-anchor="middle" fill="#fff" color="#fff">10<tspan dy="-14.6" font-size="13.6" dx="1.6">−4</tspan></text>
<line x1="932.71" y1="358" x2="932.71" y2="362.2" stroke="#fff" stroke-width="1.6"/>
<text x="933.01" y="389.7" font-size="19.6" text-anchor="middle" fill="#fff" color="#fff">10<tspan dy="-14.6" font-size="13.6" dx="1.6">−2</tspan></text>
<line x1="1000.6" y1="358" x2="1000.6" y2="362.2" stroke="#fff" stroke-width="1.6"/>
<text x="1000.9" y="389.7" font-size="19.6" text-anchor="middle" fill="#fff" color="#fff">10<tspan dy="-14.6" font-size="13.6" dx="1.6">0</tspan></text>
<text x="926.3" y="327" font-size="24" text-anchor="middle" fill="#fff" color="#fff" textLength="104.5" lengthAdjust="spacing">|ψ(x, y)|<tspan dy="-8.8" font-size="15.2" dx="0.6">2</tspan></text>
<rect x="640.7" y="490.3" width="386.1" height="385.8" fill="none" stroke="#000" stroke-width="2"/>
<line x1="641.2" y1="876.1" x2="641.2" y2="881.7" stroke="#000" stroke-width="2"/>
<line x1="705.5" y1="876.1" x2="705.5" y2="881.7" stroke="#000" stroke-width="2"/>
<line x1="769.8" y1="876.1" x2="769.8" y2="881.7" stroke="#000" stroke-width="2"/>
<line x1="834.1" y1="876.1" x2="834.1" y2="881.7" stroke="#000" stroke-width="2"/>
<line x1="898.4" y1="876.1" x2="898.4" y2="881.7" stroke="#000" stroke-width="2"/>
<line x1="962.7" y1="876.1" x2="962.7" y2="881.7" stroke="#000" stroke-width="2"/>
<line x1="1027" y1="876.1" x2="1027" y2="881.7" stroke="#000" stroke-width="2"/>
<line x1="673.35" y1="876.1" x2="673.35" y2="879.5" stroke="#000" stroke-width="1.6"/>
<line x1="737.65" y1="876.1" x2="737.65" y2="879.5" stroke="#000" stroke-width="1.6"/>
<line x1="801.95" y1="876.1" x2="801.95" y2="879.5" stroke="#000" stroke-width="1.6"/>
<line x1="866.25" y1="876.1" x2="866.25" y2="879.5" stroke="#000" stroke-width="1.6"/>
<line x1="930.55" y1="876.1" x2="930.55" y2="879.5" stroke="#000" stroke-width="1.6"/>
<line x1="994.85" y1="876.1" x2="994.85" y2="879.5" stroke="#000" stroke-width="1.6"/>
<line x1="635.1" y1="876.1" x2="640.7" y2="876.1" stroke="#000" stroke-width="2"/>
<line x1="635.1" y1="811.8" x2="640.7" y2="811.8" stroke="#000" stroke-width="2"/>
<line x1="635.1" y1="747.5" x2="640.7" y2="747.5" stroke="#000" stroke-width="2"/>
<line x1="635.1" y1="683.2" x2="640.7" y2="683.2" stroke="#000" stroke-width="2"/>
<line x1="635.1" y1="618.9" x2="640.7" y2="618.9" stroke="#000" stroke-width="2"/>
<line x1="635.1" y1="554.6" x2="640.7" y2="554.6" stroke="#000" stroke-width="2"/>
<line x1="635.1" y1="490.3" x2="640.7" y2="490.3" stroke="#000" stroke-width="2"/>
<line x1="637.3" y1="843.95" x2="640.7" y2="843.95" stroke="#000" stroke-width="1.6"/>
<line x1="637.3" y1="779.65" x2="640.7" y2="779.65" stroke="#000" stroke-width="1.6"/>
<line x1="637.3" y1="715.35" x2="640.7" y2="715.35" stroke="#000" stroke-width="1.6"/>
<line x1="637.3" y1="651.05" x2="640.7" y2="651.05" stroke="#000" stroke-width="1.6"/>
<line x1="637.3" y1="586.75" x2="640.7" y2="586.75" stroke="#000" stroke-width="1.6"/>
<line x1="637.3" y1="522.45" x2="640.7" y2="522.45" stroke="#000" stroke-width="1.6"/>
<text x="641.2" y="903.5" font-size="24" text-anchor="middle"><tspan dy="1.8">−</tspan><tspan dy="-1.8">10</tspan></text>
<text x="705.5" y="903.5" font-size="24" text-anchor="middle"><tspan dy="1.8">−</tspan><tspan dy="-1.8">5</tspan></text>
<text x="769.8" y="903.5" font-size="24" text-anchor="middle">0</text>
<text x="834.1" y="903.5" font-size="24" text-anchor="middle">5</text>
<text x="898.4" y="903.5" font-size="24" text-anchor="middle">10</text>
<text x="962.7" y="903.5" font-size="24" text-anchor="middle">15</text>
<text x="1027" y="903.5" font-size="24" text-anchor="middle">20</text>
<text x="631.4" y="884.8" font-size="24" text-anchor="end"><tspan dy="1.8">−</tspan><tspan dy="-1.8">15</tspan></text>
<text x="631.4" y="820.5" font-size="24" text-anchor="end"><tspan dy="1.8">−</tspan><tspan dy="-1.8">10</tspan></text>
<text x="631.4" y="756.2" font-size="24" text-anchor="end"><tspan dy="1.8">−</tspan><tspan dy="-1.8">5</tspan></text>
<text x="631.4" y="691.9" font-size="24" text-anchor="end">0</text>
<text x="631.4" y="627.6" font-size="24" text-anchor="end">5</text>
<text x="631.4" y="563.3" font-size="24" text-anchor="end">10</text>
<text x="631.4" y="499" font-size="24" text-anchor="end">15</text>
<text x="834.4" y="932.5" font-size="24" text-anchor="middle" textLength="71.6" lengthAdjust="spacing"><tspan font-style="italic">x</tspan> (nm)</text>
<text x="577" y="682.7" font-size="24" text-anchor="middle" transform="rotate(-90 577 682.7)" textLength="72" lengthAdjust="spacing"><tspan font-style="italic">y</tspan> (nm)</text>
<text x="1006.8" y="528.3" font-size="24" text-anchor="end" fill="#fff" color="#fff" textLength="171.6" lengthAdjust="spacing">F<tspan dy="4.4" font-size="16.8">x</tspan><tspan dy="-4.4"> = 30 (V/µm)</tspan></text>
<rect x="854.6" y="809.3" width="146" height="21" fill="url(#gcb)" stroke="#e8e8e8" stroke-width="1.6"/>
<line x1="864.82" y1="830.3" x2="864.82" y2="834.5" stroke="#fff" stroke-width="1.6"/>
<text x="865.12" y="862" font-size="19.6" text-anchor="middle" fill="#fff" color="#fff">10<tspan dy="-14.6" font-size="13.6" dx="1.6">−4</tspan></text>
<line x1="932.71" y1="830.3" x2="932.71" y2="834.5" stroke="#fff" stroke-width="1.6"/>
<text x="933.01" y="862" font-size="19.6" text-anchor="middle" fill="#fff" color="#fff">10<tspan dy="-14.6" font-size="13.6" dx="1.6">−2</tspan></text>
<line x1="1000.6" y1="830.3" x2="1000.6" y2="834.5" stroke="#fff" stroke-width="1.6"/>
<text x="1000.9" y="862" font-size="19.6" text-anchor="middle" fill="#fff" color="#fff">10<tspan dy="-14.6" font-size="13.6" dx="1.6">0</tspan></text>
<text x="926.3" y="799.3" font-size="24" text-anchor="middle" fill="#fff" color="#fff" textLength="104.5" lengthAdjust="spacing">|ψ(x, y)|<tspan dy="-8.8" font-size="15.2" dx="0.6">2</tspan></text>
<g clip-path="url(#ce)">
<polyline points="1245.33,434.29 1245.65,432.18 1245.96,430.06 1246.28,427.95 1246.59,425.83 1246.9,423.72 1247.22,421.6 1247.53,419.49 1247.85,417.38 1248.16,415.26 1248.48,413.15 1248.79,411.04 1249.1,408.92 1249.42,406.81 1249.73,404.7 1250.05,402.58 1250.36,400.47 1250.67,398.36 1250.99,396.25 1251.3,394.14 1251.62,392.02 1251.93,389.91 1252.24,387.8 1252.56,385.69 1252.87,383.58 1253.19,381.47 1253.5,379.36 1253.82,377.25 1254.13,375.13 1254.44,373.02 1254.76,370.91 1255.07,368.8 1255.39,366.69 1255.7,364.58 1256.01,362.48 1256.33,360.37 1256.64,358.26 1256.96,356.15 1257.27,354.04 1257.58,351.93 1257.9,349.82 1258.21,347.72 1258.53,345.61 1258.84,343.5 1259.16,341.39 1259.47,339.29 1259.78,337.18 1260.1,335.07 1260.41,332.97 1260.73,330.86 1261.04,328.76 1261.35,326.65 1261.67,324.55 1261.98,322.44 1262.3,320.34 1262.61,318.23 1262.92,316.13 1263.24,314.03 1263.55,311.92 1263.87,309.82 1264.18,307.72 1264.5,305.62 1264.81,303.52 1265.12,301.41 1265.44,299.31 1265.75,297.21 1266.07,295.11 1266.38,293.01 1266.69,290.91 1267.01,288.81 1267.32,286.72 1267.64,284.62 1267.95,282.52 1268.26,280.42 1268.58,278.33 1268.89,276.23 1269.21,274.13 1269.52,272.04 1269.84,269.94 1270.15,267.85 1270.46,265.76 1270.78,263.66 1271.09,261.57 1271.41,259.48 1271.72,257.39 1272.03,255.29 1272.35,253.2 1272.66,251.11 1272.98,249.03 1273.29,246.94 1273.6,244.85 1273.92,242.76 1274.23,240.68 1274.55,238.59 1274.86,236.51 1275.18,234.42 1275.49,232.34 1275.8,230.26 1276.12,228.18 1276.43,226.09 1276.75,224.01 1277.06,221.94 1277.37,219.86 1277.69,217.78 1278,215.71 1278.32,213.63 1278.63,211.56 1278.94,209.48 1279.26,207.41 1279.57,205.34 1279.89,203.27 1280.2,201.2 1280.52,199.14 1280.83,197.07 1281.14,195.01 1281.46,192.95 1281.77,190.89 1282.09,188.83 1282.4,186.77 1282.71,184.71 1283.03,182.66 1283.34,180.6 1283.66,178.55 1283.97,176.5 1284.28,174.46 1284.6,172.41 1284.91,170.37 1285.23,168.33 1285.54,166.29 1285.85,164.25 1286.17,162.22 1286.48,160.19 1286.8,158.16 1287.11,156.13 1287.43,154.11 1287.74,152.09 1288.05,150.07 1288.37,148.06 1288.68,146.05 1289,144.04 1289.31,142.04 1289.62,140.04 1289.94,138.04 1290.25,136.05 1290.57,134.06 1290.88,132.08 1291.19,130.1 1291.51,128.13 1291.82,126.16 1292.14,124.2 1292.45,122.25 1292.77,120.3 1293.08,118.35 1293.39,116.42 1293.71,114.49 1294.02,112.57 1294.34,110.66 1294.65,108.75 1294.96,106.86 1295.28,104.97 1295.59,103.1 1295.91,101.23 1296.22,99.38 1296.53,97.54 1296.85,95.71 1297.16,93.89 1297.48,92.09 1297.79,90.31 1298.11,88.54 1298.42,86.79 1298.73,85.06 1299.05,83.34 1299.36,81.65 1299.68,79.99 1299.99,78.34 1300.3,76.73 1300.62,75.14 1300.93,73.58 1301.25,72.06 1301.56,70.57 1301.87,69.11 1302.19,67.7 1302.5,66.33 1302.82,65.01 1303.13,63.73 1303.45,62.51 1303.76,61.35 1304.07,60.24 1304.39,59.2 1304.7,58.23 1305.02,57.33 1305.33,56.5 1305.64,55.76 1305.96,55.1 1306.27,54.52 1306.59,54.04 1306.9,53.65 1307.21,53.35 1307.53,53.15 1307.84,53.05 1308.16,53.05 1308.47,53.15 1308.79,53.35 1309.1,53.65 1309.41,54.04 1309.73,54.52 1310.04,55.1 1310.36,55.76 1310.67,56.5 1310.98,57.33 1311.3,58.23 1311.61,59.2 1311.93,60.24 1312.24,61.35 1312.55,62.51 1312.87,63.73 1313.18,65.01 1313.5,66.33 1313.81,67.7 1314.13,69.11 1314.44,70.57 1314.75,72.06 1315.07,73.58 1315.38,75.14 1315.7,76.73 1316.01,78.34 1316.32,79.99 1316.64,81.65 1316.95,83.34 1317.27,85.06 1317.58,86.79 1317.89,88.54 1318.21,90.31 1318.52,92.09 1318.84,93.89 1319.15,95.71 1319.47,97.54 1319.78,99.38 1320.09,101.23 1320.41,103.1 1320.72,104.97 1321.04,106.86 1321.35,108.75 1321.66,110.66 1321.98,112.57 1322.29,114.49 1322.61,116.42 1322.92,118.35 1323.23,120.3 1323.55,122.25 1323.86,124.2 1324.18,126.16 1324.49,128.13 1324.81,130.1 1325.12,132.08 1325.43,134.06 1325.75,136.05 1326.06,138.04 1326.38,140.04 1326.69,142.04 1327,144.04 1327.32,146.05 1327.63,148.06 1327.95,150.07 1328.26,152.09 1328.57,154.11 1328.89,156.13 1329.2,158.16 1329.52,160.19 1329.83,162.22 1330.15,164.25 1330.46,166.29 1330.77,168.33 1331.09,170.37 1331.4,172.41 1331.72,174.46 1332.03,176.5 1332.34,178.55 1332.66,180.6 1332.97,182.66 1333.29,184.71 1333.6,186.77 1333.91,188.83 1334.23,190.89 1334.54,192.95 1334.86,195.01 1335.17,197.07 1335.48,199.14 1335.8,201.2 1336.11,203.27 1336.43,205.34 1336.74,207.41 1337.06,209.48 1337.37,211.56 1337.68,213.63 1338,215.71 1338.31,217.78 1338.63,219.86 1338.94,221.94 1339.25,224.01 1339.57,226.09 1339.88,228.18 1340.2,230.26 1340.51,232.34 1340.82,234.42 1341.14,236.51 1341.45,238.59 1341.77,240.68 1342.08,242.76 1342.4,244.85 1342.71,246.94 1343.02,249.03 1343.34,251.11 1343.65,253.2 1343.97,255.29 1344.28,257.39 1344.59,259.48 1344.91,261.57 1345.22,263.66 1345.54,265.76 1345.85,267.85 1346.16,269.94 1346.48,272.04 1346.79,274.13 1347.11,276.23 1347.42,278.33 1347.74,280.42 1348.05,282.52 1348.36,284.62 1348.68,286.72 1348.99,288.81 1349.31,290.91 1349.62,293.01 1349.93,295.11 1350.25,297.21 1350.56,299.31 1350.88,301.41 1351.19,303.52 1351.5,305.62 1351.82,307.72 1352.13,309.82 1352.45,311.92 1352.76,314.03 1353.08,316.13 1353.39,318.23 1353.7,320.34 1354.02,322.44 1354.33,324.55 1354.65,326.65 1354.96,328.76 1355.27,330.86 1355.59,332.97 1355.9,335.07 1356.22,337.18 1356.53,339.29 1356.84,341.39 1357.16,343.5 1357.47,345.61 1357.79,347.72 1358.1,349.82 1358.42,351.93 1358.73,354.04 1359.04,356.15 1359.36,358.26 1359.67,360.37 1359.99,362.48 1360.3,364.58 1360.61,366.69 1360.93,368.8 1361.24,370.91 1361.56,373.02 1361.87,375.13 1362.18,377.25 1362.5,379.36 1362.81,381.47 1363.13,383.58 1363.44,385.69 1363.76,387.8 1364.07,389.91 1364.38,392.02 1364.7,394.14 1365.01,396.25 1365.33,398.36 1365.64,400.47 1365.95,402.58 1366.27,404.7 1366.58,406.81 1366.9,408.92 1367.21,411.04 1367.52,413.15 1367.84,415.26 1368.15,417.38 1368.47,419.49 1368.78,421.6 1369.1,423.72 1369.41,425.83 1369.72,427.95 1370.04,430.06 1370.35,432.18 1370.67,434.29" fill="none" stroke="#4677ad" stroke-width="2.8" stroke-linejoin="round" stroke-linecap="butt"/>
<polyline points="1258,416.8 1258.14,416.45 1258.28,415.3 1258.41,414.16 1258.55,413.01 1258.68,411.87 1258.82,410.73 1258.96,409.58 1259.09,408.44 1259.23,407.29 1259.37,406.15 1259.5,405.01 1259.64,403.86 1259.77,402.72 1259.91,401.57 1260.05,400.43 1260.18,399.29 1260.32,398.15 1260.46,397 1260.59,395.86 1260.73,394.72 1260.86,393.57 1261,392.43 1261.14,391.29 1261.27,390.15 1261.41,389 1261.55,387.86 1261.68,386.72 1261.82,385.58 1261.95,384.44 1262.09,383.29 1262.23,382.15 1262.36,381.01 1262.5,379.87 1262.64,378.73 1262.77,377.59 1262.91,376.45 1263.04,375.31 1263.18,374.17 1263.32,373.03 1263.45,371.89 1263.59,370.75 1263.73,369.61 1263.86,368.47 1264,367.33 1264.13,366.19 1264.27,365.05 1264.41,363.91 1264.54,362.77 1264.68,361.63 1264.82,360.49 1264.95,359.35 1265.09,358.21 1265.22,357.08 1265.36,355.94 1265.5,354.8 1265.63,353.66 1265.77,352.52 1265.9,351.39 1266.04,350.25 1266.18,349.11 1266.31,347.97 1266.45,346.84 1266.59,345.7 1266.72,344.56 1266.86,343.43 1266.99,342.29 1267.13,341.16 1267.27,340.02 1267.4,338.88 1267.54,337.75 1267.68,336.61 1267.81,335.48 1267.95,334.34 1268.08,333.21 1268.22,332.07 1268.36,330.94 1268.49,329.81 1268.63,328.67 1268.77,327.54 1268.9,326.4 1269.04,325.27 1269.17,324.14 1269.31,323.01 1269.45,321.87 1269.58,320.74 1269.72,319.61 1269.86,318.48 1269.99,317.34 1270.13,316.21 1270.26,315.08 1270.4,313.95 1270.54,312.82 1270.67,311.69 1270.81,310.56 1270.95,309.43 1271.08,308.3 1271.22,307.17 1271.35,306.04 1271.49,304.91 1271.63,303.78 1271.76,302.65 1271.9,301.52 1272.04,300.39 1272.17,299.26 1272.31,298.14 1272.44,297.01 1272.58,295.88 1272.72,294.75 1272.85,293.63 1272.99,292.5 1273.13,291.38 1273.26,290.25 1273.4,289.12 1273.53,288 1273.67,286.87 1273.81,285.75 1273.94,284.62 1274.08,283.5 1274.21,282.38 1274.35,281.25 1274.49,280.13 1274.62,279.01 1274.76,277.88 1274.9,276.76 1275.03,275.64 1275.17,274.52 1275.3,273.4 1275.44,272.27 1275.58,271.15 1275.71,270.03 1275.85,268.91 1275.99,267.79 1276.12,266.67 1276.26,265.55 1276.39,264.44 1276.53,263.32 1276.67,262.2 1276.8,261.08 1276.94,259.96 1277.08,258.85 1277.21,257.73 1277.35,256.62 1277.48,255.5 1277.62,254.38 1277.76,253.27 1277.89,252.16 1278.03,251.04 1278.17,249.93 1278.3,248.81 1278.44,247.7 1278.57,246.59 1278.71,245.48 1278.85,244.37 1278.98,243.26 1279.12,242.14 1279.26,241.03 1279.39,239.93 1279.53,238.82 1279.66,237.71 1279.8,236.6 1279.94,235.49 1280.07,234.38 1280.21,233.28 1280.35,232.17 1280.48,231.07 1280.62,229.96 1280.75,228.86 1280.89,227.75 1281.03,226.65 1281.16,225.55 1281.3,224.44 1281.44,223.34 1281.57,222.24 1281.71,221.14 1281.84,220.04 1281.98,218.94 1282.12,217.84 1282.25,216.74 1282.39,215.65 1282.52,214.55 1282.66,213.45 1282.8,212.36 1282.93,211.26 1283.07,210.17 1283.21,209.07 1283.34,207.98 1283.48,206.89 1283.61,205.8 1283.75,204.71 1283.89,203.62 1284.02,202.53 1284.16,201.44 1284.3,200.35 1284.43,199.26 1284.57,198.18 1284.7,197.09 1284.84,196.01 1284.98,194.92 1285.11,193.84 1285.25,192.76 1285.39,191.68 1285.52,190.6 1285.66,189.52 1285.79,188.44 1285.93,187.36 1286.07,186.28 1286.2,185.21 1286.34,184.13 1286.48,183.06 1286.61,181.99 1286.75,180.91 1286.88,179.84 1287.02,178.77 1287.16,177.7 1287.29,176.64 1287.43,175.57 1287.57,174.5 1287.7,173.44 1287.84,172.38 1287.97,171.31 1288.11,170.25 1288.25,169.19 1288.38,168.14 1288.52,167.08 1288.66,166.02 1288.79,164.97 1288.93,163.91 1289.06,162.86 1289.2,161.81 1289.34,160.76 1289.47,159.71 1289.61,158.67 1289.75,157.62 1289.88,156.58 1290.02,155.54 1290.15,154.49 1290.29,153.46 1290.43,152.42 1290.56,151.38 1290.7,150.35 1290.84,149.31 1290.97,148.28 1291.11,147.25 1291.24,146.23 1291.38,145.2 1291.52,144.18 1291.65,143.15 1291.79,142.13 1291.92,141.12 1292.06,140.1 1292.2,139.09 1292.33,138.07 1292.47,137.06 1292.61,136.05 1292.74,135.05 1292.88,134.04 1293.01,133.04 1293.15,132.04 1293.29,131.05 1293.42,130.05 1293.56,129.06 1293.7,128.07 1293.83,127.08 1293.97,126.1 1294.1,125.12 1294.24,124.14 1294.38,123.16 1294.51,122.18 1294.65,121.21 1294.79,120.25 1294.92,119.28 1295.06,118.32 1295.19,117.36 1295.33,116.4 1295.47,115.45 1295.6,114.5 1295.74,113.55 1295.88,112.61 1296.01,111.67 1296.15,110.73 1296.28,109.8 1296.42,108.87 1296.56,107.95 1296.69,107.03 1296.83,106.11 1296.97,105.2 1297.1,104.29 1297.24,103.38 1297.37,102.48 1297.51,101.59 1297.65,100.7 1297.78,99.81 1297.92,98.93 1298.06,98.05 1298.19,97.18 1298.33,96.31 1298.46,95.45 1298.6,94.59 1298.74,93.74 1298.87,92.89 1299.01,92.05 1299.15,91.21 1299.28,90.38 1299.42,89.56 1299.55,88.74 1299.69,87.93 1299.83,87.12 1299.96,86.33 1300.1,85.53 1300.23,84.75 1300.37,83.97 1300.51,83.2 1300.64,82.44 1300.78,81.68 1300.92,80.93 1301.05,80.19 1301.19,79.46 1301.32,78.73 1301.46,78.01 1301.6,77.3 1301.73,76.6 1301.87,75.91 1302.01,75.23 1302.14,74.56 1302.28,73.89 1302.41,73.24 1302.55,72.59 1302.69,71.96 1302.82,71.33 1302.96,70.72 1303.1,70.12 1303.23,69.52 1303.37,68.94 1303.5,68.37 1303.64,67.81 1303.78,67.26 1303.91,66.73 1304.05,66.2 1304.19,65.69 1304.32,65.19 1304.46,64.7 1304.59,64.23 1304.73,63.77 1304.87,63.32 1305,62.89 1305.14,62.47 1305.28,62.06 1305.41,61.67 1305.55,61.29 1305.68,60.93 1305.82,60.58 1305.96,60.24 1306.09,59.92 1306.23,59.62 1306.37,59.33 1306.5,59.06 1306.64,58.8 1306.77,58.56 1306.91,58.33 1307.05,58.12 1307.18,57.93 1307.32,57.75 1307.46,57.59 1307.59,57.45 1307.73,57.32 1307.86,57.21 1308,57.12 1308.14,57.04 1308.27,56.98 1308.41,56.94 1308.54,56.92 1308.68,56.91 1308.82,56.9 1308.95,56.93 1309.09,56.97 1309.23,57.02 1309.36,57.09 1309.5,57.17 1309.63,57.27 1309.77,57.38 1309.91,57.49 1310.04,57.62 1310.18,57.76 1310.32,57.91 1310.45,58.07 1310.59,58.23 1310.72,58.4 1310.86,58.58 1311,58.77 1311.13,58.96 1311.27,59.16 1311.41,59.35 1311.54,59.56 1311.68,59.76 1311.81,59.97 1311.95,60.18 1312.09,60.39 1312.22,60.61 1312.36,60.86 1312.5,61.13 1312.63,61.43 1312.77,61.75 1312.9,62.1 1313.04,62.46 1313.18,62.84 1313.31,63.24 1313.45,63.66 1313.59,64.09 1313.72,64.54 1313.86,65 1313.99,65.47 1314.13,65.96 1314.27,66.46 1314.4,66.96 1314.54,67.47 1314.68,67.99 1314.81,68.52 1314.95,69.05 1315.08,69.58 1315.22,70.11 1315.36,70.65 1315.49,71.18 1315.63,71.72 1315.77,72.25 1315.9,72.78 1316.04,73.3 1316.17,73.82 1316.31,74.34 1316.45,74.86 1316.58,75.39 1316.72,75.92 1316.85,76.46 1316.99,77 1317.13,77.55 1317.26,78.1 1317.4,78.66 1317.54,79.22 1317.67,79.79 1317.81,80.37 1317.94,80.94 1318.08,81.53 1318.22,82.11 1318.35,82.71 1318.49,83.3 1318.63,83.91 1318.76,84.51 1318.9,85.13 1319.03,85.74 1319.17,86.37 1319.31,86.99 1319.44,87.62 1319.58,88.26 1319.72,88.9 1319.85,89.55 1319.99,90.2 1320.12,90.85 1320.26,91.51 1320.4,92.18 1320.53,92.85 1320.67,93.52 1320.81,94.2 1320.94,94.89 1321.08,95.57 1321.21,96.27 1321.35,96.97 1321.49,97.67 1321.62,98.37 1321.76,99.09 1321.9,99.8 1322.03,100.37 1322.17,100.93 1322.3,101.5 1322.44,102.07 1322.58,102.64 1322.71,103.21 1322.85,103.78 1322.99,104.35 1323.12,104.93 1323.26,105.5 1323.39,106.08 1323.53,106.65 1323.67,107.23 1323.8,107.81 1323.94,108.39 1324.08,108.97 1324.21,109.55 1324.35,110.13 1324.48,110.72 1324.62,111.3 1324.76,111.88 1324.89,112.47 1325.03,113.06 1325.16,113.65 1325.3,114.23 1325.44,114.82 1325.57,115.41 1325.71,116 1325.85,116.6 1325.98,117.19 1326.12,117.78 1326.25,118.38 1326.39,118.97 1326.53,119.57 1326.66,120.16 1326.8,120.76 1326.94,121.36 1327.07,121.96 1327.21,122.56 1327.34,123.16 1327.48,123.76 1327.62,124.36 1327.75,124.97 1327.89,125.57 1328.03,126.17 1328.16,126.78 1328.3,127.38 1328.43,127.99 1328.57,128.6 1328.71,129.2 1328.84,129.81 1328.98,130.42 1329.12,131.03 1329.25,131.64 1329.39,132.25 1329.52,132.86 1329.66,133.47 1329.8,134.08 1329.93,134.7 1330.07,135.31 1330.21,135.92 1330.34,136.54 1330.48,137.15 1330.61,137.77 1330.75,138.39 1330.89,139 1331.02,139.62 1331.16,140.24 1331.3,140.86 1331.43,141.47 1331.57,142.09 1331.7,142.71 1331.84,143.33 1331.98,143.95 1332.11,144.57 1332.25,145.19 1332.39,145.82 1332.52,146.44 1332.66,147.06 1332.79,147.68 1332.93,148.31 1333.07,148.93 1333.2,149.55 1333.34,150.18 1333.48,150.8 1333.61,151.43 1333.75,152.05 1333.88,152.68 1334.02,153.3 1334.16,153.93 1334.29,154.56 1334.43,155.18 1334.56,155.81 1334.7,156.44 1334.84,157.06 1334.97,157.69 1335.11,158.32 1335.25,158.95 1335.38,159.58 1335.52,160.21 1335.65,160.83 1335.79,161.46 1335.93,162.09 1336.06,162.72 1336.2,163.35 1336.34,163.98 1336.47,164.61 1336.61,165.24 1336.74,165.87 1336.88,166.5 1337.02,167.13 1337.15,167.76 1337.29,168.39 1337.43,169.02 1337.56,169.65 1337.7,170.28 1337.83,170.91 1337.97,171.55 1338.11,172.18 1338.24,172.81 1338.38,173.44 1338.52,174.07 1338.65,174.7 1338.79,175.33 1338.92,175.96 1339.06,176.59 1339.2,177.22 1339.33,177.85 1339.47,178.49 1339.61,179.12 1339.74,179.75 1339.88,180.38 1340.01,181.01 1340.15,181.64 1340.29,182.27 1340.42,182.9 1340.56,183.53 1340.7,184.16 1340.83,184.79 1340.97,185.42 1341.1,186.05 1341.24,186.68 1341.38,187.31 1341.51,187.94 1341.65,188.56 1341.79,189.19 1341.92,189.82 1342.06,190.45 1342.19,191.08 1342.33,191.71 1342.47,192.33 1342.6,192.96 1342.74,193.59 1342.87,194.21 1343.01,194.84 1343.15,195.47 1343.28,196.09 1343.42,196.72 1343.56,197.34 1343.69,197.97 1343.83,198.59 1343.96,199.22 1344.1,199.84 1344.24,200.46 1344.37,201.09 1344.51,201.71 1344.65,202.33 1344.78,202.95 1344.92,203.58 1345.05,204.2 1345.19,204.82 1345.33,205.44 1345.46,206.06 1345.6,206.67 1345.74,207.29 1345.87,207.91 1346.01,208.52 1346.14,209.14 1346.28,209.75 1346.42,210.36 1346.55,210.98 1346.69,211.59 1346.83,212.19 1346.96,212.8 1347.1,213.41 1347.23,214.01 1347.37,214.61 1347.51,215.21 1347.64,215.81 1347.78,216.41 1347.92,217 1348.05,217.6 1348.19,218.19 1348.32,218.78 1348.46,219.37 1348.6,219.95 1348.73,220.53 1348.87,221.11 1349.01,221.69 1349.14,222.27 1349.28,222.84 1349.41,223.41 1349.55,223.98 1349.69,224.55 1349.82,225.11 1349.96,225.69 1350.1,226.28 1350.23,226.87 1350.37,227.46 1350.5,228.05 1350.64,228.65 1350.78,229.25 1350.91,229.86 1351.05,230.47 1351.18,231.09 1351.32,231.72 1351.46,232.36 1351.59,233 1351.73,233.65 1351.87,234.3 1352,234.95 1352.14,235.6 1352.27,236.25 1352.41,236.9 1352.55,237.55 1352.68,238.19 1352.82,238.83 1352.96,239.45 1353.09,240.07 1353.23,240.68 1353.36,241.28 1353.5,241.87 1353.64,242.45 1353.77,243.03 1353.91,243.6 1354.05,244.16 1354.18,244.72 1354.32,245.27 1354.45,245.82 1354.59,246.37 1354.73,246.91 1354.86,247.44 1355,247.98 1355.14,248.51 1355.27,249.04 1355.41,249.56 1355.54,250.08 1355.68,250.6 1355.82,251.12 1355.95,251.64 1356.09,252.16 1356.23,252.67 1356.36,253.19 1356.5,253.7 1356.63,254.22 1356.77,254.73 1356.91,255.25 1357.04,255.77 1357.18,256.28 1357.32,256.8 1357.45,257.33 1357.59,257.85 1357.72,258.38 1357.86,258.91 1358,259.44 1358.13,259.98 1358.27,260.52 1358.41,261.06 1358.54,261.61 1358.68,262.17 1358.81,262.72 1358.95,263.29 1359.09,263.86 1359.22,264.43 1359.36,265.02 1359.49,265.6 1359.63,266.2 1359.77,266.8 1359.9,267.41 1360.04,268.03 1360.18,268.65 1360.31,269.28 1360.45,269.92 1360.58,270.56 1360.72,271.21 1360.86,271.86 1360.99,272.52 1361.13,273.19 1361.27,273.86 1361.4,274.53 1361.54,275.21 1361.67,275.89 1361.81,276.57 1361.95,277.26 1362.08,277.95 1362.22,278.64 1362.36,279.34 1362.49,280.04 1362.63,280.74 1362.76,281.44 1362.9,282.15 1363.04,282.85 1363.17,283.56 1363.31,284.26 1363.45,284.97 1363.58,285.68 1363.72,286.38 1363.85,287.09 1363.99,287.79 1364.13,288.5 1364.26,289.2 1364.4,289.9 1364.54,290.6 1364.67,291.3 1364.81,291.99 1364.94,292.68 1365.08,293.37 1365.22,294.06 1365.35,294.74 1365.49,295.42 1365.63,296.1 1365.76,296.78 1365.9,297.46 1366.03,298.14 1366.17,298.82 1366.31,299.5 1366.44,300.18 1366.58,300.87 1366.72,301.55 1366.85,302.23 1366.99,302.91 1367.12,303.59 1367.26,304.27 1367.4,304.95 1367.53,305.63 1367.67,306.31 1367.8,306.99 1367.94,307.67 1368.08,308.35 1368.21,309.03 1368.35,309.71 1368.49,310.39 1368.62,311.07 1368.76,311.75 1368.89,312.43 1369.03,313.1 1369.17,313.78 1369.3,314.46 1369.44,315.14 1369.58,315.82 1369.71,316.5 1369.85,317.18 1369.98,317.85 1370.12,318.53 1370.26,319.21 1370.39,319.88 1370.53,320.56 1370.67,321.24 1370.8,321.91 1370.94,322.59 1371.07,323.27 1371.21,323.94 1371.35,324.61 1371.48,325.29 1371.62,325.96 1371.76,326.63 1371.89,327.3 1372.03,327.97 1372.16,328.64 1372.3,329.31 1372.44,329.97 1372.57,330.64 1372.71,331.31 1372.85,331.98 1372.98,332.64 1373.12,333.31 1373.25,333.98 1373.39,334.64 1373.53,335.31 1373.66,335.98 1373.8,336.65 1373.94,337.31 1374.07,337.98 1374.21,338.65 1374.34,339.32 1374.48,339.99 1374.62,340.66 1374.75,341.33 1374.89,342.01 1375.03,342.68 1375.16,343.36 1375.3,344.03 1375.43,344.71 1375.57,345.39 1375.71,346.07 1375.84,346.75 1375.98,347.43 1376.11,348.11 1376.25,348.8 1376.39,349.48 1376.52,350.17 1376.66,350.86 1376.8,351.55 1376.93,352.23 1377.07,352.92 1377.2,353.6 1377.34,354.29 1377.48,354.97 1377.61,355.65 1377.75,356.33 1377.89,357.02 1378.02,357.7 1378.16,358.39 1378.29,359.07 1378.43,359.76 1378.57,360.45 1378.7,361.14 1378.84,361.83 1378.98,362.53 1379.11,363.23 1379.25,363.93 1379.38,364.63 1379.52,365.34 1379.66,366.05 1379.79,366.76 1379.93,367.48 1380.07,368.21 1380.2,368.93 1380.34,369.66 1380.47,370.4 1380.61,371.14 1380.75,371.89 1380.88,372.65 1381.02,373.41 1381.16,374.17 1381.29,374.94 1381.43,375.7 1381.56,376.46 1381.7,377.21 1381.84,377.96 1381.97,378.71 1382.11,379.47 1382.25,380.22 1382.38,380.97 1382.52,381.73 1382.65,382.49 1382.79,383.25 1382.93,384.02 1383.06,384.8 1383.2,385.58 1383.34,386.37 1383.47,387.17 1383.61,387.98 1383.74,388.81 1383.88,389.64 1384.02,390.49 1384.15,391.35 1384.29,392.23 1384.43,393.12 1384.56,394.03 1384.7,394.96 1384.83,395.9 1384.97,396.87 1385.11,397.85 1385.24,398.86 1385.38,399.89 1385.51,400.94 1385.65,402.02 1385.79,403.13 1385.92,404.28 1386.06,405.48 1386.2,406.7 1386.33,407.97 1386.47,409.27 1386.6,410.61 1386.74,411.98 1386.88,413.38 1387.01,414.81 1387.15,416.27 1387.29,416.8" fill="none" stroke="#c0505a" stroke-width="2.8" stroke-linejoin="round" stroke-linecap="butt"/>
<polyline points="1404.31,416.8 1404.45,415.23 1404.59,413.39 1404.72,411.61 1404.86,409.87 1405,408.19 1405.13,406.55 1405.27,404.95 1405.4,403.39 1405.54,401.88 1405.68,400.4 1405.81,398.96 1405.95,397.55 1406.09,396.18 1406.22,394.84 1406.36,393.53 1406.49,392.25 1406.63,391 1406.77,389.78 1406.9,388.59 1407.04,387.42 1407.18,386.28 1407.31,385.16 1407.45,384.06 1407.58,382.99 1407.72,381.94 1407.86,380.92 1407.99,379.91 1408.13,378.92 1408.27,377.96 1408.4,377.01 1408.54,376.08 1408.67,375.17 1408.81,374.28 1408.95,373.4 1409.08,372.54 1409.22,371.7 1409.36,370.87 1409.49,370.06 1409.63,369.27 1409.76,368.49 1409.9,367.72 1410.04,366.97 1410.17,366.23 1410.31,365.51 1410.44,364.8 1410.58,364.1 1410.72,363.42 1410.85,362.74 1410.99,362.08 1411.13,361.44 1411.26,360.8 1411.4,360.18 1411.53,359.56 1411.67,358.96 1411.81,358.37 1411.94,357.79 1412.08,357.22 1412.22,356.66 1412.35,356.11 1412.49,355.57 1412.62,355.04 1412.76,354.52 1412.9,354 1413.03,353.5 1413.17,353.01 1413.31,352.53 1413.44,352.05 1413.58,351.59 1413.71,351.13 1413.85,350.68 1413.99,350.24 1414.12,349.81 1414.26,349.38 1414.4,348.97 1414.53,348.56 1414.67,348.16 1414.8,347.77 1414.94,347.38 1415.08,347 1415.21,346.63 1415.35,346.27 1415.49,345.92 1415.62,345.57 1415.76,345.23 1415.89,344.89 1416.03,344.56 1416.17,344.24 1416.3,343.93 1416.44,343.62 1416.58,343.32 1416.71,343.03 1416.85,342.74 1416.98,342.46 1417.12,342.18 1417.26,341.91 1417.39,341.65 1417.53,341.4 1417.67,341.15 1417.8,340.9 1417.94,340.66 1418.07,340.43 1418.21,340.21 1418.35,339.99 1418.48,339.77 1418.62,339.56 1418.75,339.36 1418.89,339.16 1419.03,338.97 1419.16,338.78 1419.3,338.6 1419.44,338.43 1419.57,338.26 1419.71,338.09 1419.84,337.93 1419.98,337.78 1420.12,337.63 1420.25,337.49 1420.39,337.35 1420.53,337.21 1420.66,337.09 1420.8,336.96 1420.93,336.85 1421.07,336.73 1421.21,336.63 1421.34,336.52 1421.48,336.43 1421.62,336.33 1421.75,336.25 1421.89,336.16 1422.02,336.09 1422.16,336.01 1422.3,335.95 1422.43,335.88 1422.57,335.82 1422.71,335.77 1422.84,335.72 1422.98,335.68 1423.11,335.64 1423.25,335.6 1423.39,335.57 1423.52,335.55 1423.66,335.53 1423.8,335.51 1423.93,335.5 1424.07,335.5 1424.2,335.49 1424.34,335.5 1424.48,335.5 1424.61,335.52 1424.75,335.53 1424.89,335.56 1425.02,335.58 1425.16,335.61 1425.29,335.65 1425.43,335.69 1425.57,335.73 1425.7,335.78 1425.84,335.83 1425.98,335.89 1426.11,335.95 1426.25,336.02 1426.38,336.09 1426.52,336.17 1426.66,336.25 1426.79,336.33 1426.93,336.42 1427.07,336.52 1427.2,336.62 1427.34,336.72 1427.47,336.83 1427.61,336.94 1427.75,337.06 1427.88,337.18 1428.02,337.31 1428.15,337.44 1428.29,337.57 1428.43,337.71 1428.56,337.86 1428.7,338.01 1428.84,338.16 1428.97,338.32 1429.11,338.48 1429.24,338.65 1429.38,338.82 1429.52,339 1429.65,339.18 1429.79,339.37 1429.93,339.56 1430.06,339.75 1430.2,339.96 1430.33,340.16 1430.47,340.37 1430.61,340.59 1430.74,340.81 1430.88,341.03 1431.02,341.26 1431.15,341.49 1431.29,341.73 1431.42,341.98 1431.56,342.23 1431.7,342.48 1431.83,342.74 1431.97,343 1432.11,343.27 1432.24,343.55 1432.38,343.83 1432.51,344.11 1432.65,344.4 1432.79,344.7 1432.92,345 1433.06,345.3 1433.2,345.61 1433.33,345.93 1433.47,346.25 1433.6,346.58 1433.74,346.91 1433.88,347.25 1434.01,347.59 1434.15,347.94 1434.29,348.29 1434.42,348.65 1434.56,349.02 1434.69,349.39 1434.83,349.76 1434.97,350.15 1435.1,350.53 1435.24,350.93 1435.38,351.33 1435.51,351.74 1435.65,352.15 1435.78,352.57 1435.92,352.99 1436.06,353.42 1436.19,353.86 1436.33,354.3 1436.46,354.75 1436.6,355.21 1436.74,355.67 1436.87,356.14 1437.01,356.62 1437.15,357.1 1437.28,357.59 1437.42,358.09 1437.55,358.59 1437.69,359.1 1437.83,359.62 1437.96,360.14 1438.1,360.68 1438.24,361.22 1438.37,361.76 1438.51,362.32 1438.64,362.88 1438.78,363.45 1438.92,364.03 1439.05,364.62 1439.19,365.21 1439.33,365.81 1439.46,366.42 1439.6,367.04 1439.73,367.67 1439.87,368.31 1440.01,368.95 1440.14,369.61 1440.28,370.27 1440.42,370.95 1440.55,371.63 1440.69,372.32 1440.82,373.02 1440.96,373.73 1441.1,374.46 1441.23,375.19 1441.37,375.93 1441.51,376.68 1441.64,377.45 1441.78,378.22 1441.91,379.01 1442.05,379.81 1442.19,380.61 1442.32,381.44 1442.46,382.27 1442.6,383.11 1442.73,383.97 1442.87,384.84 1443,385.73 1443.14,386.63 1443.28,387.54 1443.41,388.46 1443.55,389.4 1443.69,390.36 1443.82,391.33 1443.96,392.31 1444.09,393.31 1444.23,394.33 1444.37,395.36 1444.5,396.41 1444.64,397.48 1444.77,398.57 1444.91,399.67 1445.05,400.79 1445.18,401.94 1445.32,403.1 1445.46,404.28 1445.59,405.48 1445.73,406.71 1445.86,407.96 1446,409.23 1446.14,410.52 1446.27,411.84 1446.41,413.19 1446.55,414.56 1446.68,415.96 1446.82,416.8" fill="none" stroke="#c0505a" stroke-width="2.8" stroke-linejoin="round" stroke-linecap="butt"/>
<polyline points="1459.08,416.8 1459.22,415.89 1459.35,414.06 1459.49,412.29 1459.62,410.57 1459.76,408.9 1459.9,407.28 1460.03,405.7 1460.17,404.17 1460.31,402.68 1460.44,401.23 1460.58,399.82 1460.71,398.44 1460.85,397.11 1460.99,395.8 1461.12,394.54 1461.26,393.3 1461.39,392.1 1461.53,390.92 1461.67,389.78 1461.8,388.67 1461.94,387.58 1462.08,386.52 1462.21,385.49 1462.35,384.48 1462.48,383.49 1462.62,382.54 1462.76,381.6 1462.89,380.69 1463.03,379.8 1463.17,378.93 1463.3,378.08 1463.44,377.26 1463.57,376.45 1463.71,375.67 1463.85,374.91 1463.98,374.16 1464.12,373.43 1464.26,372.72 1464.39,372.03 1464.53,371.36 1464.66,370.7 1464.8,370.07 1464.94,369.44 1465.07,368.84 1465.21,368.25 1465.35,367.68 1465.48,367.12 1465.62,366.58 1465.75,366.05 1465.89,365.54 1466.03,365.05 1466.16,364.56 1466.3,364.1 1466.44,363.64 1466.57,363.2 1466.71,362.78 1466.84,362.37 1466.98,361.97 1467.12,361.58 1467.25,361.21 1467.39,360.85 1467.53,360.51 1467.66,360.18 1467.8,359.86 1467.93,359.55 1468.07,359.25 1468.21,358.97 1468.34,358.7 1468.48,358.44 1468.62,358.2 1468.75,357.96 1468.89,357.74 1469.02,357.53 1469.16,357.33 1469.3,357.14 1469.43,356.97 1469.57,356.8 1469.71,356.65 1469.84,356.51 1469.98,356.38 1470.11,356.26 1470.25,356.15 1470.39,356.06 1470.52,355.97 1470.66,355.9 1470.79,355.84 1470.93,355.79 1471.07,355.75 1471.2,355.72 1471.34,355.7 1471.48,355.69 1471.61,355.69 1471.75,355.71 1471.88,355.73 1472.02,355.77 1472.16,355.82 1472.29,355.87 1472.43,355.94 1472.57,356.02 1472.7,356.11 1472.84,356.22 1472.97,356.33 1473.11,356.45 1473.25,356.59 1473.38,356.73 1473.52,356.89 1473.66,357.06 1473.79,357.24 1473.93,357.43 1474.06,357.63 1474.2,357.84 1474.34,358.07 1474.47,358.3 1474.61,358.55 1474.75,358.81 1474.88,359.08 1475.02,359.36 1475.15,359.66 1475.29,359.96 1475.43,360.28 1475.56,360.61 1475.7,360.95 1475.84,361.31 1475.97,361.67 1476.11,362.05 1476.24,362.44 1476.38,362.84 1476.52,363.26 1476.65,363.69 1476.79,364.13 1476.93,364.59 1477.06,365.05 1477.2,365.54 1477.33,366.03 1477.47,366.54 1477.61,367.06 1477.74,367.6 1477.88,368.15 1478.02,368.72 1478.15,369.3 1478.29,369.89 1478.42,370.5 1478.56,371.13 1478.7,371.77 1478.83,372.42 1478.97,373.1 1479.1,373.78 1479.24,374.49 1479.38,375.21 1479.51,375.95 1479.65,376.71 1479.79,377.48 1479.92,378.27 1480.06,379.08 1480.19,379.91 1480.33,380.76 1480.47,381.63 1480.6,382.52 1480.74,383.43 1480.88,384.36 1481.01,385.31 1481.15,386.28 1481.28,387.28 1481.42,388.3 1481.56,389.34 1481.69,390.41 1481.83,391.5 1481.97,392.62 1482.1,393.76 1482.24,394.93 1482.37,396.13 1482.51,397.36 1482.65,398.62 1482.78,399.9 1482.92,401.22 1483.06,402.57 1483.19,403.96 1483.33,405.38 1483.46,406.84 1483.6,408.33 1483.74,409.87 1483.87,411.44 1484.01,413.06 1484.15,414.72 1484.28,416.42 1484.42,416.8" fill="none" stroke="#c0505a" stroke-width="2.8" stroke-linejoin="round" stroke-linecap="butt"/>
<polyline points="1495.04,416.8 1495.18,415.71 1495.32,413.91 1495.45,412.17 1495.59,410.49 1495.72,408.85 1495.86,407.26 1496,405.72 1496.13,404.23 1496.27,402.78 1496.41,401.37 1496.54,400 1496.68,398.67 1496.81,397.38 1496.95,396.13 1497.09,394.91 1497.22,393.73 1497.36,392.57 1497.5,391.45 1497.63,390.37 1497.77,389.31 1497.9,388.28 1498.04,387.28 1498.18,386.31 1498.31,385.36 1498.45,384.44 1498.59,383.55 1498.72,382.69 1498.86,381.84 1498.99,381.02 1499.13,380.23 1499.27,379.46 1499.4,378.71 1499.54,377.98 1499.68,377.28 1499.81,376.6 1499.95,375.93 1500.08,375.29 1500.22,374.67 1500.36,374.07 1500.49,373.49 1500.63,372.93 1500.77,372.38 1500.9,371.86 1501.04,371.35 1501.17,370.87 1501.31,370.4 1501.45,369.94 1501.58,369.51 1501.72,369.09 1501.86,368.69 1501.99,368.31 1502.13,367.94 1502.26,367.59 1502.4,367.26 1502.54,366.94 1502.67,366.64 1502.81,366.36 1502.95,366.09 1503.08,365.84 1503.22,365.6 1503.35,365.38 1503.49,365.17 1503.63,364.98 1503.76,364.8 1503.9,364.64 1504.03,364.5 1504.17,364.37 1504.31,364.25 1504.44,364.15 1504.58,364.07 1504.72,364 1504.85,363.94 1504.99,363.9 1505.12,363.87 1505.26,363.86 1505.4,363.86 1505.53,363.88 1505.67,363.92 1505.81,363.96 1505.94,364.02 1506.08,364.1 1506.21,364.19 1506.35,364.3 1506.49,364.42 1506.62,364.56 1506.76,364.71 1506.9,364.87 1507.03,365.05 1507.17,365.25 1507.3,365.46 1507.44,365.69 1507.58,365.93 1507.71,366.19 1507.85,366.46 1507.99,366.75 1508.12,367.05 1508.26,367.37 1508.39,367.7 1508.53,368.05 1508.67,368.42 1508.8,368.81 1508.94,369.21 1509.08,369.62 1509.21,370.06 1509.35,370.51 1509.48,370.97 1509.62,371.46 1509.76,371.96 1509.89,372.48 1510.03,373.02 1510.17,373.58 1510.3,374.15 1510.44,374.75 1510.57,375.36 1510.71,375.99 1510.85,376.64 1510.98,377.32 1511.12,378.01 1511.26,378.72 1511.39,379.45 1511.53,380.21 1511.66,380.99 1511.8,381.79 1511.94,382.61 1512.07,383.45 1512.21,384.32 1512.34,385.21 1512.48,386.13 1512.62,387.08 1512.75,388.04 1512.89,389.04 1513.03,390.06 1513.16,391.11 1513.3,392.19 1513.43,393.3 1513.57,394.44 1513.71,395.61 1513.84,396.81 1513.98,398.05 1514.12,399.32 1514.25,400.63 1514.39,401.97 1514.52,403.35 1514.66,404.77 1514.8,406.22 1514.93,407.73 1515.07,409.27 1515.21,410.86 1515.34,412.5 1515.48,414.19 1515.61,415.92 1515.75,416.8" fill="none" stroke="#c0505a" stroke-width="2.8" stroke-linejoin="round" stroke-linecap="butt"/>
<polyline points="1525.83,416.8 1525.97,414.94 1526.1,413.08 1526.24,411.27 1526.38,409.53 1526.51,407.84 1526.65,406.21 1526.79,404.63 1526.92,403.1 1527.06,401.63 1527.19,400.2 1527.33,398.81 1527.47,397.47 1527.6,396.18 1527.74,394.92 1527.88,393.7 1528.01,392.53 1528.15,391.38 1528.28,390.28 1528.42,389.21 1528.56,388.18 1528.69,387.17 1528.83,386.21 1528.97,385.27 1529.1,384.36 1529.24,383.48 1529.37,382.64 1529.51,381.82 1529.65,381.03 1529.78,380.27 1529.92,379.53 1530.05,378.82 1530.19,378.14 1530.33,377.48 1530.46,376.85 1530.6,376.24 1530.74,375.66 1530.87,375.1 1531.01,374.57 1531.14,374.06 1531.28,373.57 1531.42,373.1 1531.55,372.66 1531.69,372.24 1531.83,371.84 1531.96,371.46 1532.1,371.1 1532.23,370.77 1532.37,370.45 1532.51,370.16 1532.64,369.89 1532.78,369.63 1532.92,369.4 1533.05,369.19 1533.19,369 1533.32,368.83 1533.46,368.68 1533.6,368.54 1533.73,368.43 1533.87,368.34 1534.01,368.27 1534.14,368.22 1534.28,368.18 1534.41,368.17 1534.55,368.17 1534.69,368.2 1534.82,368.25 1534.96,368.31 1535.1,368.39 1535.23,368.5 1535.37,368.62 1535.5,368.77 1535.64,368.93 1535.78,369.11 1535.91,369.31 1536.05,369.54 1536.19,369.78 1536.32,370.04 1536.46,370.33 1536.59,370.63 1536.73,370.96 1536.87,371.3 1537,371.67 1537.14,372.06 1537.28,372.47 1537.41,372.9 1537.55,373.35 1537.68,373.83 1537.82,374.33 1537.96,374.85 1538.09,375.39 1538.23,375.96 1538.36,376.55 1538.5,377.16 1538.64,377.8 1538.77,378.46 1538.91,379.15 1539.05,379.87 1539.18,380.61 1539.32,381.37 1539.45,382.17 1539.59,382.99 1539.73,383.84 1539.86,384.72 1540,385.63 1540.14,386.56 1540.27,387.53 1540.41,388.53 1540.54,389.57 1540.68,390.63 1540.82,391.74 1540.95,392.87 1541.09,394.04 1541.23,395.25 1541.36,396.5 1541.5,397.79 1541.63,399.12 1541.77,400.49 1541.91,401.91 1542.04,403.37 1542.18,404.88 1542.32,406.44 1542.45,408.04 1542.59,409.71 1542.72,411.43 1542.86,413.2 1543,415.04 1543.13,416.8" fill="none" stroke="#c0505a" stroke-width="2.8" stroke-linejoin="round" stroke-linecap="butt"/>
<polyline points="1552.81,416.8 1552.94,415.39 1553.08,413.54 1553.21,411.74 1553.35,410.01 1553.49,408.34 1553.62,406.72 1553.76,405.16 1553.9,403.65 1554.03,402.19 1554.17,400.78 1554.3,399.41 1554.44,398.09 1554.58,396.82 1554.71,395.58 1554.85,394.38 1554.98,393.23 1555.12,392.11 1555.26,391.02 1555.39,389.98 1555.53,388.97 1555.67,387.99 1555.8,387.05 1555.94,386.14 1556.07,385.26 1556.21,384.41 1556.35,383.59 1556.48,382.8 1556.62,382.04 1556.76,381.31 1556.89,380.6 1557.03,379.93 1557.16,379.28 1557.3,378.65 1557.44,378.06 1557.57,377.48 1557.71,376.94 1557.85,376.42 1557.98,375.92 1558.12,375.45 1558.25,375 1558.39,374.57 1558.53,374.17 1558.66,373.79 1558.8,373.43 1558.94,373.1 1559.07,372.79 1559.21,372.5 1559.34,372.23 1559.48,371.99 1559.62,371.77 1559.75,371.56 1559.89,371.39 1560.03,371.23 1560.16,371.09 1560.3,370.97 1560.43,370.88 1560.57,370.81 1560.71,370.75 1560.84,370.72 1560.98,370.71 1561.12,370.72 1561.25,370.76 1561.39,370.81 1561.52,370.88 1561.66,370.98 1561.8,371.1 1561.93,371.23 1562.07,371.39 1562.21,371.57 1562.34,371.77 1562.48,372 1562.61,372.24 1562.75,372.51 1562.89,372.8 1563.02,373.11 1563.16,373.44 1563.3,373.8 1563.43,374.17 1563.57,374.57 1563.7,375 1563.84,375.45 1563.98,375.92 1564.11,376.41 1564.25,376.93 1564.38,377.48 1564.52,378.04 1564.66,378.64 1564.79,379.26 1564.93,379.9 1565.07,380.57 1565.2,381.27 1565.34,382 1565.47,382.75 1565.61,383.53 1565.75,384.35 1565.88,385.19 1566.02,386.06 1566.16,386.96 1566.29,387.89 1566.43,388.86 1566.56,389.86 1566.7,390.89 1566.84,391.96 1566.97,393.06 1567.11,394.2 1567.25,395.38 1567.38,396.6 1567.52,397.86 1567.65,399.16 1567.79,400.5 1567.93,401.89 1568.06,403.33 1568.2,404.81 1568.34,406.34 1568.47,407.93 1568.61,409.56 1568.74,411.26 1568.88,413.01 1569.02,414.83 1569.15,416.7 1569.29,416.8" fill="none" stroke="#c0505a" stroke-width="2.8" stroke-linejoin="round" stroke-linecap="butt"/>
<polyline points="1578.55,416.8 1578.69,416.11 1578.83,414.15 1578.96,412.27 1579.1,410.45 1579.23,408.71 1579.37,407.02 1579.51,405.39 1579.64,403.83 1579.78,402.31 1579.92,400.85 1580.05,399.45 1580.19,398.09 1580.32,396.78 1580.46,395.51 1580.6,394.29 1580.73,393.11 1580.87,391.98 1581,390.89 1581.14,389.83 1581.28,388.81 1581.41,387.84 1581.55,386.89 1581.69,385.99 1581.82,385.12 1581.96,384.28 1582.09,383.48 1582.23,382.71 1582.37,381.97 1582.5,381.26 1582.64,380.58 1582.78,379.94 1582.91,379.32 1583.05,378.73 1583.18,378.17 1583.32,377.64 1583.46,377.14 1583.59,376.67 1583.73,376.22 1583.87,375.8 1584,375.41 1584.14,375.04 1584.27,374.7 1584.41,374.38" fill="none" stroke="#c0505a" stroke-width="2.8" stroke-linejoin="round" stroke-linecap="butt"/>
</g>
<g clip-path="url(#ce2)">
<polyline points="1259.91,401.57 1260.18,399.29 1260.46,397 1260.73,394.72 1261,392.43 1261.27,390.15 1261.55,387.86 1261.82,385.58 1262.09,383.29 1262.36,381.01 1262.64,378.73 1262.91,376.45 1263.18,374.17 1263.45,371.89 1263.73,369.61 1264,367.33 1264.27,365.05 1264.54,362.77 1264.82,360.49 1265.09,358.21 1265.36,355.94 1265.63,353.66 1265.9,351.39 1266.18,349.11 1266.45,346.84 1266.72,344.56 1266.99,342.29 1267.27,340.02 1267.54,337.75 1267.81,335.48 1268.08,333.21 1268.36,330.94 1268.63,328.67 1268.9,326.4 1269.17,324.14 1269.45,321.87 1269.72,319.61 1269.99,317.34 1270.26,315.08 1270.54,312.82 1270.81,310.56 1271.08,308.3 1271.35,306.04 1271.63,303.78 1271.9,301.52 1272.17,299.26 1272.44,297.01 1272.72,294.75 1272.99,292.5 1273.26,290.25 1273.53,288 1273.81,285.75 1274.08,283.5 1274.35,281.25 1274.62,279.01 1274.9,276.76 1275.17,274.52 1275.44,272.27 1275.71,270.03 1275.99,267.79 1276.26,265.55 1276.53,263.32 1276.8,261.08 1277.08,258.85 1277.35,256.62 1277.62,254.38 1277.89,252.16 1278.17,249.93 1278.44,247.7 1278.71,245.48 1278.98,243.26 1279.26,241.03 1279.53,238.82 1279.8,236.6 1280.07,234.38 1280.35,232.17 1280.62,229.96 1280.89,227.75 1281.16,225.55 1281.44,223.34 1281.71,221.14 1281.98,218.94 1282.25,216.74 1282.52,214.55 1282.8,212.36 1283.07,210.17 1283.34,207.98 1283.61,205.8 1283.89,203.62 1284.16,201.44 1284.43,199.26 1284.7,197.09 1284.98,194.92 1285.25,192.76 1285.52,190.6 1285.79,188.44 1286.07,186.28 1286.34,184.13 1286.61,181.99 1286.88,179.84 1287.16,177.7 1287.43,175.57 1287.7,173.44 1287.97,171.31 1288.25,169.19 1288.52,167.08 1288.79,164.97 1289.06,162.86 1289.34,160.76 1289.61,158.67 1289.88,156.58 1290.15,154.49 1290.43,152.42 1290.7,150.35 1290.97,148.28 1291.24,146.23 1291.52,144.18 1291.79,142.13 1292.06,140.1 1292.33,138.07 1292.61,136.05 1292.88,134.04 1293.15,132.04 1293.42,130.05 1293.7,128.07 1293.97,126.1 1294.24,124.14 1294.51,122.18 1294.79,120.25 1295.06,118.32 1295.33,116.4 1295.6,114.5 1295.88,112.61 1296.15,110.73 1296.42,108.87 1296.69,107.03 1296.97,105.2 1297.24,103.38 1297.51,101.59 1297.78,99.81 1298.06,98.05 1298.33,96.31 1298.6,94.59 1298.87,92.89 1299.15,91.21 1299.42,89.56 1299.69,87.93 1299.96,86.33 1300.23,84.75 1300.51,83.2 1300.78,81.68 1301.05,80.19 1301.32,78.73 1301.6,77.3 1301.87,75.91 1302.14,74.56 1302.41,73.24 1302.69,71.96 1302.96,70.72 1303.23,69.52 1303.5,68.37 1303.78,67.26 1304.05,66.2 1304.32,65.19 1304.59,64.23 1304.87,63.32 1305.14,62.47 1305.41,61.67 1305.68,60.93 1305.96,60.24 1306.23,59.62 1306.5,59.06 1306.77,58.56 1307.05,58.12 1307.32,57.75 1307.59,57.45 1307.86,57.21 1308.14,57.04 1308.41,56.94 1308.68,56.9 1308.95,56.93 1309.23,57.02 1309.5,57.17 1309.77,57.38 1310.04,57.62 1310.32,57.91 1310.59,58.23 1310.86,58.58 1311.13,58.96 1311.41,59.35 1311.68,59.76 1311.95,60.18 1312.22,60.61 1312.5,61.13 1312.77,61.75 1313.04,62.46 1313.31,63.24 1313.59,64.09 1313.86,65 1314.13,65.96 1314.4,66.96 1314.68,67.99 1314.95,69.05 1315.22,70.11 1315.49,71.18 1315.77,72.25 1316.04,73.3 1316.31,74.34 1316.58,75.39 1316.85,76.46 1317.13,77.55 1317.4,78.66 1317.67,79.79 1317.94,80.94 1318.22,82.11 1318.49,83.3 1318.76,84.51 1319.03,85.74 1319.31,86.99 1319.58,88.26 1319.85,89.55 1320.12,90.85 1320.4,92.18 1320.67,93.52 1320.94,94.89 1321.21,96.27 1321.49,97.67 1321.76,99.09 1322.03,100.37 1322.3,101.5 1322.58,102.64 1322.85,103.78 1323.12,104.93 1323.39,106.08 1323.67,107.23 1323.94,108.39 1324.21,109.55 1324.48,110.72 1324.76,111.88 1325.03,113.06 1325.3,114.23 1325.57,115.41 1325.85,116.6 1326.12,117.78 1326.39,118.97 1326.66,120.16 1326.94,121.36 1327.21,122.56 1327.48,123.76 1327.75,124.97 1328.03,126.17 1328.3,127.38 1328.57,128.6 1328.84,129.81 1329.12,131.03 1329.39,132.25 1329.66,133.47 1329.93,134.7 1330.21,135.92 1330.48,137.15 1330.75,138.39 1331.02,139.62 1331.3,140.86 1331.57,142.09 1331.84,143.33 1332.11,144.57 1332.39,145.82 1332.66,147.06 1332.93,148.31 1333.2,149.55 1333.48,150.8 1333.75,152.05 1334.02,153.3 1334.29,154.56 1334.56,155.81 1334.84,157.06 1335.11,158.32 1335.38,159.58 1335.65,160.83 1335.93,162.09 1336.2,163.35 1336.47,164.61 1336.74,165.87 1337.02,167.13 1337.29,168.39 1337.56,169.65 1337.83,170.91 1338.11,172.18 1338.38,173.44 1338.65,174.7 1338.92,175.96 1339.2,177.22 1339.47,178.49 1339.74,179.75 1340.01,181.01 1340.29,182.27 1340.56,183.53 1340.83,184.79 1341.1,186.05 1341.38,187.31 1341.65,188.56 1341.92,189.82 1342.19,191.08 1342.47,192.33 1342.74,193.59 1343.01,194.84 1343.28,196.09 1343.56,197.34 1343.83,198.59 1344.1,199.84 1344.37,201.09 1344.65,202.33 1344.92,203.58 1345.19,204.82 1345.46,206.06 1345.74,207.29 1346.01,208.52 1346.28,209.75 1346.55,210.98 1346.83,212.19 1347.1,213.41 1347.37,214.61 1347.64,215.81 1347.92,217 1348.19,218.19 1348.46,219.37 1348.73,220.53 1349.01,221.69 1349.28,222.84 1349.55,223.98 1349.82,225.11 1350.1,226.22 1350.37,227.33 1350.64,228.42 1350.91,229.5 1351.18,230.57 1351.46,231.62 1351.73,232.66 1352,233.68 1352.27,234.69 1352.55,235.68 1352.82,236.66 1353.09,237.62 1353.36,238.56 1353.64,239.49 1353.91,240.4 1354.18,241.3 1354.45,242.19 1354.73,243.06 1355,243.92 1355.27,244.76 1355.54,245.59 1355.82,246.41 1356.09,247.21 1356.36,248 1356.63,248.78 1356.91,249.55 1357.18,250.31 1357.45,251.05 1357.72,251.79 1358,252.51 1358.27,253.22 1358.54,253.92 1358.81,254.61 1359.09,255.29 1359.36,255.97 1359.63,256.63 1359.9,257.28 1360.18,257.93 1360.45,258.56 1360.72,259.19 1360.99,259.81 1361.27,260.42 1361.54,261.03 1361.81,261.63 1362.08,262.22 1362.36,262.8 1362.63,263.38 1362.9,263.95 1363.17,264.52 1363.45,265.08 1363.72,265.63 1363.99,266.18 1364.26,266.73 1364.54,267.27 1364.81,267.81 1365.08,268.34 1365.35,268.87 1365.63,269.39 1365.9,269.91 1366.17,270.43 1366.44,270.94 1366.72,271.45 1366.99,271.95 1367.26,272.46 1367.53,272.95 1367.8,273.44 1368.08,273.93 1368.35,274.42 1368.62,274.9 1368.89,275.38 1369.17,275.85 1369.44,276.32 1369.71,276.79 1369.98,277.25 1370.26,277.72 1370.53,278.17 1370.8,278.63 1371.07,279.08 1371.35,279.52 1371.62,279.97 1371.89,280.41 1372.16,280.85 1372.44,281.28 1372.71,281.72 1372.98,282.14 1373.25,282.57 1373.53,282.99 1373.8,283.41 1374.07,283.83 1374.34,284.25 1374.62,284.66 1374.89,285.07 1375.16,285.48 1375.43,285.88 1375.71,286.28 1375.98,286.68 1376.25,287.08 1376.52,287.48 1376.8,287.87 1377.07,288.26 1377.34,288.65 1377.61,289.04 1377.89,289.42 1378.16,289.8 1378.43,290.18 1378.7,290.56 1378.98,290.94 1379.25,291.31 1379.52,291.68 1379.79,292.05 1380.07,292.42 1380.34,292.79 1380.61,293.15 1380.88,293.52 1381.16,293.88 1381.43,294.24 1381.7,294.6 1381.97,294.96 1382.25,295.31 1382.52,295.67 1382.79,296.02 1383.06,296.37 1383.34,296.72 1383.61,297.07 1383.88,297.42 1384.15,297.76 1384.43,298.11 1384.7,298.45 1384.97,298.79 1385.24,299.13 1385.51,299.47 1385.79,299.81 1386.06,300.14 1386.33,300.48 1386.6,300.81 1386.88,301.14 1387.15,301.47 1387.42,301.8 1387.69,302.12 1387.97,302.45 1388.24,302.77 1388.51,303.1 1388.78,303.42 1389.06,303.74 1389.33,304.05 1389.6,304.37 1389.87,304.69 1390.15,305 1390.42,305.31 1390.69,305.62 1390.96,305.93 1391.24,306.24 1391.51,306.55 1391.78,306.86 1392.05,307.16 1392.33,307.46 1392.6,307.76 1392.87,308.06 1393.14,308.36 1393.42,308.66 1393.69,308.96 1393.96,309.25 1394.23,309.55 1394.51,309.84 1394.78,310.13 1395.05,310.42 1395.32,310.71 1395.6,310.99 1395.87,311.28 1396.14,311.57 1396.41,311.85 1396.69,312.13 1396.96,312.41 1397.23,312.69 1397.5,312.97 1397.78,313.25 1398.05,313.52 1398.32,313.79 1398.59,314.07 1398.87,314.34 1399.14,314.61 1399.41,314.88 1399.68,315.15 1399.96,315.41 1400.23,315.68 1400.5,315.94 1400.77,316.21 1401.05,316.47 1401.32,316.73 1401.59,316.99 1401.86,317.25 1402.13,317.5 1402.41,317.76 1402.68,318.01 1402.95,318.27 1403.22,318.52 1403.5,318.77 1403.77,319.02 1404.04,319.27 1404.31,319.52 1404.59,319.76 1404.86,320.01 1405.13,320.25 1405.4,320.5 1405.68,320.74 1405.95,320.98 1406.22,321.22 1406.49,321.46 1406.77,321.69 1407.04,321.93 1407.31,322.16 1407.58,322.4 1407.86,322.63 1408.13,322.86 1408.4,323.09 1408.67,323.32 1408.95,323.55 1409.22,323.78 1409.49,324.01 1409.76,324.23 1410.04,324.45 1410.31,324.68 1410.58,324.9 1410.85,325.12 1411.13,325.34 1411.4,325.56 1411.67,325.78 1411.94,325.99 1412.22,326.21 1412.49,326.42 1412.76,326.64 1413.03,326.85 1413.31,327.06 1413.58,327.27 1413.85,327.48 1414.12,327.69 1414.4,327.89 1414.67,328.1 1414.94,328.31 1415.21,328.51 1415.49,328.71 1415.76,328.92 1416.03,329.12 1416.3,329.32 1416.58,329.52 1416.85,329.72 1417.12,329.91 1417.39,330.11 1417.67,330.31 1417.94,330.5 1418.21,330.69 1418.48,330.89 1418.75,331.08 1419.03,331.27 1419.3,331.46 1419.57,331.65 1419.84,331.84 1420.12,332.02 1420.39,332.21 1420.66,332.39 1420.93,332.58 1421.21,332.76 1421.48,332.95 1421.75,333.13 1422.02,333.31 1422.3,333.49 1422.57,333.67 1422.84,333.84 1423.11,334.02 1423.39,334.2 1423.66,334.37 1423.93,334.55 1424.2,334.72 1424.48,334.9 1424.75,335.07 1425.02,335.24 1425.29,335.41 1425.57,335.58 1425.84,335.75 1426.11,335.92 1426.38,336.08 1426.66,336.25 1426.93,336.41 1427.2,336.58 1427.47,336.74 1427.75,336.91 1428.02,337.07 1428.29,337.23 1428.56,337.39 1428.84,337.55 1429.11,337.71 1429.38,337.87 1429.65,338.03 1429.93,338.18 1430.2,338.34 1430.47,338.49 1430.74,338.65 1431.02,338.8 1431.29,338.96 1431.56,339.11 1431.83,339.26 1432.11,339.41 1432.38,339.56 1432.65,339.71 1432.92,339.86 1433.2,340.01 1433.47,340.15 1433.74,340.3 1434.01,340.45 1434.29,340.59 1434.56,340.74 1434.83,340.88 1435.1,341.02 1435.38,341.17 1435.65,341.31 1435.92,341.45 1436.19,341.59 1436.46,341.73 1436.74,341.87 1437.01,342.01 1437.28,342.14 1437.55,342.28 1437.83,342.42 1438.1,342.55 1438.37,342.69 1438.64,342.82 1438.92,342.96 1439.19,343.09 1439.46,343.22 1439.73,343.36 1440.01,343.49 1440.28,343.62 1440.55,343.75 1440.82,343.88 1441.1,344.01 1441.37,344.14 1441.64,344.26 1441.91,344.39 1442.19,344.52 1442.46,344.64 1442.73,344.77 1443,344.89 1443.28,345.02 1443.55,345.14 1443.82,345.27 1444.09,345.39 1444.37,345.51 1444.64,345.63 1444.91,345.76 1445.18,345.88 1445.46,346 1445.73,346.12 1446,346.24 1446.27,346.35 1446.55,346.47 1446.82,346.59 1447.09,346.71 1447.36,346.82 1447.64,346.94 1447.91,347.06 1448.18,347.17 1448.45,347.29 1448.73,347.4 1449,347.51 1449.27,347.63 1449.54,347.74 1449.82,347.85 1450.09,347.97 1450.36,348.08 1450.63,348.19 1450.91,348.3 1451.18,348.41 1451.45,348.52 1451.72,348.63 1452,348.74 1452.27,348.85 1452.54,348.96 1452.81,349.06 1453.08,349.17 1453.36,349.28 1453.63,349.38 1453.9,349.49 1454.17,349.6 1454.45,349.7 1454.72,349.81 1454.99,349.91 1455.26,350.02 1455.54,350.12 1455.81,350.22 1456.08,350.33 1456.35,350.43 1456.63,350.53 1456.9,350.63 1457.17,350.74 1457.44,350.84 1457.72,350.94 1457.99,351.04 1458.26,351.14 1458.53,351.24 1458.81,351.34 1459.08,351.44 1459.35,351.54 1459.62,351.64 1459.9,351.74 1460.17,351.83 1460.44,351.93 1460.71,352.03 1460.99,352.13 1461.26,352.22 1461.53,352.32 1461.8,352.41 1462.08,352.51 1462.35,352.6 1462.62,352.7 1462.89,352.79 1463.17,352.89 1463.44,352.98 1463.71,353.08 1463.98,353.17 1464.26,353.26 1464.53,353.35 1464.8,353.45 1465.07,353.54 1465.35,353.63 1465.62,353.72 1465.89,353.81 1466.16,353.9 1466.44,353.99 1466.71,354.08 1466.98,354.17 1467.25,354.26 1467.53,354.35 1467.8,354.44 1468.07,354.53 1468.34,354.61 1468.62,354.7 1468.89,354.79 1469.16,354.88 1469.43,354.96 1469.71,355.05 1469.98,355.13 1470.25,355.22 1470.52,355.31 1470.79,355.39 1471.07,355.48 1471.34,355.56 1471.61,355.64 1471.88,355.73 1472.16,355.81 1472.43,355.89 1472.7,355.98 1472.97,356.06 1473.25,356.14 1473.52,356.22 1473.79,356.3 1474.06,356.39 1474.34,356.47 1474.61,356.55 1474.88,356.63 1475.15,356.71 1475.43,356.79 1475.7,356.87 1475.97,356.94 1476.24,357.02 1476.52,357.1 1476.79,357.18 1477.06,357.26 1477.33,357.34 1477.61,357.41 1477.88,357.49 1478.15,357.57 1478.42,357.64 1478.7,357.72 1478.97,357.79 1479.24,357.87 1479.51,357.95 1479.79,358.02 1480.06,358.09 1480.33,358.17 1480.6,358.24 1480.88,358.32 1481.15,358.39 1481.42,358.46 1481.69,358.54 1481.97,358.61 1482.24,358.68 1482.51,358.75 1482.78,358.82 1483.06,358.9 1483.33,358.97 1483.6,359.04 1483.87,359.11 1484.15,359.18 1484.42,359.25 1484.69,359.32 1484.96,359.39 1485.24,359.46 1485.51,359.53 1485.78,359.59 1486.05,359.66 1486.33,359.73 1486.6,359.8 1486.87,359.87 1487.14,359.93 1487.41,360 1487.69,360.07 1487.96,360.13 1488.23,360.2 1488.5,360.27 1488.78,360.33 1489.05,360.4 1489.32,360.46 1489.59,360.53 1489.87,360.59 1490.14,360.65 1490.41,360.72 1490.68,360.78 1490.96,360.85 1491.23,360.91 1491.5,360.97 1491.77,361.03 1492.05,361.1 1492.32,361.16 1492.59,361.22 1492.86,361.28 1493.14,361.34 1493.41,361.41 1493.68,361.47 1493.95,361.53 1494.23,361.59 1494.5,361.65 1494.77,361.71 1495.04,361.77 1495.32,361.83 1495.59,361.89 1495.86,361.95 1496.13,362 1496.41,362.06 1496.68,362.12 1496.95,362.18 1497.22,362.24 1497.5,362.29 1497.77,362.35 1498.04,362.41 1498.31,362.46 1498.59,362.52 1498.86,362.58 1499.13,362.63 1499.4,362.69 1499.68,362.74 1499.95,362.8 1500.22,362.85 1500.49,362.91 1500.77,362.96 1501.04,363.02 1501.31,363.07 1501.58,363.13 1501.86,363.18 1502.13,363.23 1502.4,363.29 1502.67,363.34 1502.95,363.39 1503.22,363.44 1503.49,363.5 1503.76,363.55 1504.03,363.6 1504.31,363.65 1504.58,363.7 1504.85,363.76 1505.12,363.81 1505.4,363.86 1505.67,363.91 1505.94,363.96 1506.21,364.01 1506.49,364.06 1506.76,364.11 1507.03,364.16 1507.3,364.21 1507.58,364.26 1507.85,364.3 1508.12,364.35 1508.39,364.4 1508.67,364.45 1508.94,364.5 1509.21,364.54 1509.48,364.59 1509.76,364.64 1510.03,364.69 1510.3,364.73 1510.57,364.78 1510.85,364.83 1511.12,364.87 1511.39,364.92 1511.66,364.96 1511.94,365.01 1512.21,365.06 1512.48,365.1 1512.75,365.15 1513.03,365.19 1513.3,365.24 1513.57,365.28 1513.84,365.32 1514.12,365.37 1514.39,365.41 1514.66,365.46 1514.93,365.5 1515.21,365.54 1515.48,365.59 1515.75,365.63 1516.02,365.67 1516.3,365.71 1516.57,365.76 1516.84,365.8 1517.11,365.84 1517.39,365.88 1517.66,365.92 1517.93,365.97 1518.2,366.01 1518.48,366.05 1518.75,366.09 1519.02,366.13 1519.29,366.17 1519.57,366.21 1519.84,366.25 1520.11,366.29 1520.38,366.33 1520.66,366.37 1520.93,366.41 1521.2,366.45 1521.47,366.49 1521.74,366.53 1522.02,366.57 1522.29,366.6 1522.56,366.64 1522.83,366.68 1523.11,366.72 1523.38,366.76 1523.65,366.79 1523.92,366.83 1524.2,366.87 1524.47,366.91 1524.74,366.94 1525.01,366.98 1525.29,367.02 1525.56,367.05 1525.83,367.09 1526.1,367.13 1526.38,367.16 1526.65,367.2 1526.92,367.23 1527.19,367.27 1527.47,367.31 1527.74,367.34 1528.01,367.38 1528.28,367.41 1528.56,367.45 1528.83,367.48 1529.1,367.52 1529.37,367.55 1529.65,367.58 1529.92,367.62 1530.19,367.65 1530.46,367.69 1530.74,367.72 1531.01,367.75 1531.28,367.79 1531.55,367.82 1531.83,367.85 1532.1,367.89 1532.37,367.92 1532.64,367.95 1532.92,367.98 1533.19,368.02 1533.46,368.05 1533.73,368.08 1534.01,368.11 1534.28,368.14 1534.55,368.17 1534.82,368.21 1535.1,368.24 1535.37,368.27 1535.64,368.3 1535.91,368.33 1536.19,368.36 1536.46,368.39 1536.73,368.42 1537,368.45 1537.28,368.48 1537.55,368.51 1537.82,368.54 1538.09,368.57 1538.36,368.6 1538.64,368.63 1538.91,368.66 1539.18,368.69 1539.45,368.72 1539.73,368.75 1540,368.78 1540.27,368.81 1540.54,368.84 1540.82,368.87 1541.09,368.89 1541.36,368.92 1541.63,368.95 1541.91,368.98 1542.18,369.01 1542.45,369.04 1542.72,369.06 1543,369.09 1543.27,369.12 1543.54,369.15 1543.81,369.17 1544.09,369.2 1544.36,369.23 1544.63,369.26 1544.9,369.28 1545.18,369.31 1545.45,369.34 1545.72,369.36 1545.99,369.39 1546.27,369.42 1546.54,369.44 1546.81,369.47 1547.08,369.49 1547.36,369.52 1547.63,369.55 1547.9,369.57 1548.17,369.6 1548.45,369.62 1548.72,369.65 1548.99,369.67 1549.26,369.7 1549.54,369.73 1549.81,369.75 1550.08,369.78 1550.35,369.8 1550.63,369.83 1550.9,369.85 1551.17,369.87 1551.44,369.9 1551.72,369.92 1551.99,369.95 1552.26,369.97 1552.53,370 1552.81,370.02 1553.08,370.05 1553.35,370.07 1553.62,370.09 1553.9,370.12 1554.17,370.14 1554.44,370.16 1554.71,370.19 1554.98,370.21 1555.26,370.24 1555.53,370.26 1555.8,370.28 1556.07,370.31 1556.35,370.33 1556.62,370.35 1556.89,370.37 1557.16,370.4 1557.44,370.42 1557.71,370.44 1557.98,370.47 1558.25,370.49 1558.53,370.51 1558.8,370.53 1559.07,370.56 1559.34,370.58 1559.62,370.6 1559.89,370.62 1560.16,370.64 1560.43,370.67 1560.71,370.69 1560.98,370.71 1561.25,370.73 1561.52,370.75 1561.8,370.78 1562.07,370.8 1562.34,370.82 1562.61,370.84 1562.89,370.86 1563.16,370.88 1563.43,370.91 1563.7,370.93 1563.98,370.95 1564.25,370.97 1564.52,370.99 1564.79,371.01 1565.07,371.03 1565.34,371.05 1565.61,371.08 1565.88,371.1 1566.16,371.12 1566.43,371.14 1566.7,371.16 1566.97,371.18 1567.25,371.2 1567.52,371.22 1567.79,371.24 1568.06,371.26 1568.34,371.28 1568.61,371.3 1568.88,371.32 1569.15,371.35 1569.43,371.37 1569.7,371.39 1569.97,371.41 1570.24,371.43 1570.52,371.45 1570.79,371.47 1571.06,371.49 1571.33,371.51 1571.61,371.53 1571.88,371.55 1572.15,371.57 1572.42,371.59 1572.69,371.61 1572.97,371.63 1573.24,371.65 1573.51,371.67 1573.78,371.69 1574.06,371.71 1574.33,371.73 1574.6,371.75 1574.87,371.77 1575.15,371.79 1575.42,371.81 1575.69,371.83 1575.96,371.85 1576.24,371.87 1576.51,371.89 1576.78,371.91 1577.05,371.93 1577.33,371.95 1577.6,371.97 1577.87,371.98 1578.14,372 1578.42,372.02 1578.69,372.04 1578.96,372.06 1579.23,372.08 1579.51,372.1 1579.78,372.12 1580.05,372.14 1580.32,372.16 1580.6,372.18 1580.87,372.2 1581.14,372.22 1581.41,372.24 1581.69,372.26 1581.96,372.28 1582.23,372.3 1582.5,372.32 1582.78,372.34 1583.05,372.36 1583.32,372.38 1583.59,372.4 1583.87,372.42" fill="none" stroke="#000" stroke-width="1.7" stroke-linejoin="round" stroke-linecap="butt"/>
</g>
<rect x="1171.8" y="18.3" width="408.7" height="385.2" fill="none" stroke="#000" stroke-width="2"/>
<line x1="1171.77" y1="403.5" x2="1171.77" y2="409.1" stroke="#000" stroke-width="2"/>
<line x1="1239.88" y1="403.5" x2="1239.88" y2="409.1" stroke="#000" stroke-width="2"/>
<line x1="1308" y1="403.5" x2="1308" y2="409.1" stroke="#000" stroke-width="2"/>
<line x1="1376.12" y1="403.5" x2="1376.12" y2="409.1" stroke="#000" stroke-width="2"/>
<line x1="1444.23" y1="403.5" x2="1444.23" y2="409.1" stroke="#000" stroke-width="2"/>
<line x1="1512.35" y1="403.5" x2="1512.35" y2="409.1" stroke="#000" stroke-width="2"/>
<line x1="1580.46" y1="403.5" x2="1580.46" y2="409.1" stroke="#000" stroke-width="2"/>
<line x1="1205.83" y1="403.5" x2="1205.83" y2="406.9" stroke="#000" stroke-width="1.6"/>
<line x1="1273.94" y1="403.5" x2="1273.94" y2="406.9" stroke="#000" stroke-width="1.6"/>
<line x1="1342.06" y1="403.5" x2="1342.06" y2="406.9" stroke="#000" stroke-width="1.6"/>
<line x1="1410.17" y1="403.5" x2="1410.17" y2="406.9" stroke="#000" stroke-width="1.6"/>
<line x1="1478.29" y1="403.5" x2="1478.29" y2="406.9" stroke="#000" stroke-width="1.6"/>
<line x1="1546.4" y1="403.5" x2="1546.4" y2="406.9" stroke="#000" stroke-width="1.6"/>
<line x1="1166.2" y1="18.3" x2="1171.8" y2="18.3" stroke="#000" stroke-width="2"/>
<line x1="1166.2" y1="107.85" x2="1171.8" y2="107.85" stroke="#000" stroke-width="2"/>
<line x1="1166.2" y1="197.4" x2="1171.8" y2="197.4" stroke="#000" stroke-width="2"/>
<line x1="1166.2" y1="286.95" x2="1171.8" y2="286.95" stroke="#000" stroke-width="2"/>
<line x1="1166.2" y1="376.5" x2="1171.8" y2="376.5" stroke="#000" stroke-width="2"/>
<line x1="1168.4" y1="80.89" x2="1171.8" y2="80.89" stroke="#000" stroke-width="1.6"/>
<line x1="1168.4" y1="65.12" x2="1171.8" y2="65.12" stroke="#000" stroke-width="1.6"/>
<line x1="1168.4" y1="53.94" x2="1171.8" y2="53.94" stroke="#000" stroke-width="1.6"/>
<line x1="1168.4" y1="45.26" x2="1171.8" y2="45.26" stroke="#000" stroke-width="1.6"/>
<line x1="1168.4" y1="38.17" x2="1171.8" y2="38.17" stroke="#000" stroke-width="1.6"/>
<line x1="1168.4" y1="32.17" x2="1171.8" y2="32.17" stroke="#000" stroke-width="1.6"/>
<line x1="1168.4" y1="26.98" x2="1171.8" y2="26.98" stroke="#000" stroke-width="1.6"/>
<line x1="1168.4" y1="22.4" x2="1171.8" y2="22.4" stroke="#000" stroke-width="1.6"/>
<line x1="1168.4" y1="170.44" x2="1171.8" y2="170.44" stroke="#000" stroke-width="1.6"/>
<line x1="1168.4" y1="154.67" x2="1171.8" y2="154.67" stroke="#000" stroke-width="1.6"/>
<line x1="1168.4" y1="143.49" x2="1171.8" y2="143.49" stroke="#000" stroke-width="1.6"/>
<line x1="1168.4" y1="134.81" x2="1171.8" y2="134.81" stroke="#000" stroke-width="1.6"/>
<line x1="1168.4" y1="127.72" x2="1171.8" y2="127.72" stroke="#000" stroke-width="1.6"/>
<line x1="1168.4" y1="121.72" x2="1171.8" y2="121.72" stroke="#000" stroke-width="1.6"/>
<line x1="1168.4" y1="116.53" x2="1171.8" y2="116.53" stroke="#000" stroke-width="1.6"/>
<line x1="1168.4" y1="111.95" x2="1171.8" y2="111.95" stroke="#000" stroke-width="1.6"/>
<line x1="1168.4" y1="259.99" x2="1171.8" y2="259.99" stroke="#000" stroke-width="1.6"/>
<line x1="1168.4" y1="244.22" x2="1171.8" y2="244.22" stroke="#000" stroke-width="1.6"/>
<line x1="1168.4" y1="233.04" x2="1171.8" y2="233.04" stroke="#000" stroke-width="1.6"/>
<line x1="1168.4" y1="224.36" x2="1171.8" y2="224.36" stroke="#000" stroke-width="1.6"/>
<line x1="1168.4" y1="217.27" x2="1171.8" y2="217.27" stroke="#000" stroke-width="1.6"/>
<line x1="1168.4" y1="211.27" x2="1171.8" y2="211.27" stroke="#000" stroke-width="1.6"/>
<line x1="1168.4" y1="206.08" x2="1171.8" y2="206.08" stroke="#000" stroke-width="1.6"/>
<line x1="1168.4" y1="201.5" x2="1171.8" y2="201.5" stroke="#000" stroke-width="1.6"/>
<line x1="1168.4" y1="349.54" x2="1171.8" y2="349.54" stroke="#000" stroke-width="1.6"/>
<line x1="1168.4" y1="333.77" x2="1171.8" y2="333.77" stroke="#000" stroke-width="1.6"/>
<line x1="1168.4" y1="322.59" x2="1171.8" y2="322.59" stroke="#000" stroke-width="1.6"/>
<line x1="1168.4" y1="313.91" x2="1171.8" y2="313.91" stroke="#000" stroke-width="1.6"/>
<line x1="1168.4" y1="306.82" x2="1171.8" y2="306.82" stroke="#000" stroke-width="1.6"/>
<line x1="1168.4" y1="300.82" x2="1171.8" y2="300.82" stroke="#000" stroke-width="1.6"/>
<line x1="1168.4" y1="295.63" x2="1171.8" y2="295.63" stroke="#000" stroke-width="1.6"/>
<line x1="1168.4" y1="291.05" x2="1171.8" y2="291.05" stroke="#000" stroke-width="1.6"/>
<line x1="1168.4" y1="396.37" x2="1171.8" y2="396.37" stroke="#000" stroke-width="1.6"/>
<line x1="1168.4" y1="390.37" x2="1171.8" y2="390.37" stroke="#000" stroke-width="1.6"/>
<line x1="1168.4" y1="385.18" x2="1171.8" y2="385.18" stroke="#000" stroke-width="1.6"/>
<line x1="1168.4" y1="380.6" x2="1171.8" y2="380.6" stroke="#000" stroke-width="1.6"/>
<text x="1171.77" y="431.1" font-size="24" text-anchor="middle"><tspan dy="1.8">−</tspan><tspan dy="-1.8">10</tspan></text>
<text x="1239.88" y="431.1" font-size="24" text-anchor="middle"><tspan dy="1.8">−</tspan><tspan dy="-1.8">5</tspan></text>
<text x="1308" y="431.1" font-size="24" text-anchor="middle">0</text>
<text x="1376.12" y="431.1" font-size="24" text-anchor="middle">5</text>
<text x="1444.23" y="431.1" font-size="24" text-anchor="middle">10</text>
<text x="1512.35" y="431.1" font-size="24" text-anchor="middle">15</text>
<text x="1580.46" y="431.1" font-size="24" text-anchor="middle">20</text>
<text x="1160.6" y="30.7" font-size="24" text-anchor="end">10<tspan dy="-16.2" font-size="16.8" dx="1.5">0</tspan></text>
<text x="1160.6" y="120.25" font-size="24" text-anchor="end">10<tspan dy="-16.2" font-size="16.8" dx="1.5">−1</tspan></text>
<text x="1160.6" y="209.8" font-size="24" text-anchor="end">10<tspan dy="-16.2" font-size="16.8" dx="1.5">−2</tspan></text>
<text x="1160.6" y="299.35" font-size="24" text-anchor="end">10<tspan dy="-16.2" font-size="16.8" dx="1.5">−3</tspan></text>
<text x="1160.6" y="388.9" font-size="24" text-anchor="end">10<tspan dy="-16.2" font-size="16.8" dx="1.5">−4</tspan></text>
<text x="1376.41" y="460" font-size="24" text-anchor="middle" textLength="71.6" lengthAdjust="spacing"><tspan font-style="italic">x</tspan> (nm)</text>
<text x="1098.6" y="207" font-size="24" text-anchor="middle" transform="rotate(-90 1098.6 207)" textLength="228.3" lengthAdjust="spacing"><tspan font-style="italic" rotate="14">|</tspan><tspan font-style="italic">ψ(x, y = 0)</tspan><tspan font-style="italic" rotate="14">|</tspan><tspan dy="-9.5" font-size="16.8">2</tspan><tspan dy="9.5"> (nm</tspan><tspan dy="-9.5" font-size="16.8">−2</tspan><tspan dy="9.5">)</tspan></text>
<text x="1509" y="51" font-size="24" text-anchor="middle" textLength="110.2" lengthAdjust="spacing">F<tspan dy="4" font-size="16.8">x</tspan><tspan dy="-4"> (V/µm)</tspan></text>
<line x1="1446.5" y1="88.6" x2="1499.2" y2="88.6" stroke="#4677ad" stroke-width="2.5"/>
<line x1="1446.5" y1="123.9" x2="1499.2" y2="123.9" stroke="#c0505a" stroke-width="2.5"/>
<text x="1517.5" y="97" font-size="24">0</text>
<text x="1517.5" y="132.2" font-size="24" textLength="28.6" lengthAdjust="spacing">30</text>
<g clip-path="url(#cf)">
<polyline points="1172.1,858.6 1197.62,858.46 1223.14,858.05 1248.66,857.35 1274.18,856.36 1299.7,855.08 1325.22,853.52 1350.74,851.68 1376.26,849.58 1401.78,847.21 1427.3,844.61 1452.82,841.8 1478.34,838.78 1503.86,835.6 1529.38,832.28 1554.9,828.85 1580.42,825.35" fill="none" stroke="#420a68" stroke-width="2.3" stroke-linejoin="round" stroke-linecap="butt"/>
<polyline points="1172.1,858.6 1197.62,858.14 1223.14,856.89 1248.66,855.06 1274.18,852.76 1299.7,850.07 1325.22,847.02 1350.74,843.59 1376.26,839.69 1401.78,835.18 1427.3,829.89 1452.82,823.57 1478.34,815.94 1503.86,806.64 1529.38,795.28 1554.9,781.42 1580.42,764.54" fill="none" stroke="#932667" stroke-width="2.3" stroke-linejoin="round" stroke-linecap="butt"/>
<polyline points="1172.1,858.6 1197.62,857.87 1223.14,855.88 1248.66,852.79 1274.18,848.71 1299.7,843.62 1325.22,837.4 1350.74,829.84 1376.26,820.61 1401.78,809.31 1427.3,795.4 1452.82,778.27 1478.34,757.18 1503.86,731.31 1529.38,699.74 1554.9,661.44 1580.42,615.26" fill="none" stroke="#dd513a" stroke-width="2.3" stroke-linejoin="round" stroke-linecap="butt"/>
<polyline points="1172.1,858.6 1197.62,857.62 1223.14,854.57 1248.66,849.31 1274.18,841.68 1299.7,831.53 1325.22,818.72 1350.74,803.08 1376.26,784.46 1401.78,762.71 1427.3,737.67 1452.82,709.18 1478.34,677.09 1503.86,641.23 1529.38,601.44 1554.9,557.58 1580.42,509.46" fill="none" stroke="#fca50a" stroke-width="2.3" stroke-linejoin="round" stroke-linecap="butt"/>
</g>
<rect x="1172.1" y="490.4" width="408.3" height="385.6" fill="none" stroke="#000" stroke-width="2"/>
<line x1="1172.1" y1="876" x2="1172.1" y2="881.6" stroke="#000" stroke-width="2"/>
<line x1="1223.14" y1="876" x2="1223.14" y2="881.6" stroke="#000" stroke-width="2"/>
<line x1="1274.18" y1="876" x2="1274.18" y2="881.6" stroke="#000" stroke-width="2"/>
<line x1="1325.22" y1="876" x2="1325.22" y2="881.6" stroke="#000" stroke-width="2"/>
<line x1="1376.26" y1="876" x2="1376.26" y2="881.6" stroke="#000" stroke-width="2"/>
<line x1="1427.3" y1="876" x2="1427.3" y2="881.6" stroke="#000" stroke-width="2"/>
<line x1="1478.34" y1="876" x2="1478.34" y2="881.6" stroke="#000" stroke-width="2"/>
<line x1="1529.38" y1="876" x2="1529.38" y2="881.6" stroke="#000" stroke-width="2"/>
<line x1="1580.42" y1="876" x2="1580.42" y2="881.6" stroke="#000" stroke-width="2"/>
<line x1="1197.62" y1="876" x2="1197.62" y2="879.4" stroke="#000" stroke-width="1.6"/>
<line x1="1248.66" y1="876" x2="1248.66" y2="879.4" stroke="#000" stroke-width="1.6"/>
<line x1="1299.7" y1="876" x2="1299.7" y2="879.4" stroke="#000" stroke-width="1.6"/>
<line x1="1350.74" y1="876" x2="1350.74" y2="879.4" stroke="#000" stroke-width="1.6"/>
<line x1="1401.78" y1="876" x2="1401.78" y2="879.4" stroke="#000" stroke-width="1.6"/>
<line x1="1452.82" y1="876" x2="1452.82" y2="879.4" stroke="#000" stroke-width="1.6"/>
<line x1="1503.86" y1="876" x2="1503.86" y2="879.4" stroke="#000" stroke-width="1.6"/>
<line x1="1554.9" y1="876" x2="1554.9" y2="879.4" stroke="#000" stroke-width="1.6"/>
<line x1="1166.5" y1="858.6" x2="1172.1" y2="858.6" stroke="#000" stroke-width="2"/>
<line x1="1166.5" y1="789.28" x2="1172.1" y2="789.28" stroke="#000" stroke-width="2"/>
<line x1="1166.5" y1="719.96" x2="1172.1" y2="719.96" stroke="#000" stroke-width="2"/>
<line x1="1166.5" y1="650.64" x2="1172.1" y2="650.64" stroke="#000" stroke-width="2"/>
<line x1="1166.5" y1="581.32" x2="1172.1" y2="581.32" stroke="#000" stroke-width="2"/>
<line x1="1166.5" y1="512" x2="1172.1" y2="512" stroke="#000" stroke-width="2"/>
<line x1="1168.7" y1="823.94" x2="1172.1" y2="823.94" stroke="#000" stroke-width="1.6"/>
<line x1="1168.7" y1="754.62" x2="1172.1" y2="754.62" stroke="#000" stroke-width="1.6"/>
<line x1="1168.7" y1="685.3" x2="1172.1" y2="685.3" stroke="#000" stroke-width="1.6"/>
<line x1="1168.7" y1="615.98" x2="1172.1" y2="615.98" stroke="#000" stroke-width="1.6"/>
<line x1="1168.7" y1="546.66" x2="1172.1" y2="546.66" stroke="#000" stroke-width="1.6"/>
<text x="1172.1" y="903.4" font-size="24" text-anchor="middle">0</text>
<text x="1223.14" y="903.4" font-size="24" text-anchor="middle">2</text>
<text x="1274.18" y="903.4" font-size="24" text-anchor="middle">4</text>
<text x="1325.22" y="903.4" font-size="24" text-anchor="middle">6</text>
<text x="1376.26" y="903.4" font-size="24" text-anchor="middle">8</text>
<text x="1427.3" y="903.4" font-size="24" text-anchor="middle">10</text>
<text x="1478.34" y="903.4" font-size="24" text-anchor="middle">12</text>
<text x="1529.38" y="903.4" font-size="24" text-anchor="middle">14</text>
<text x="1580.42" y="903.4" font-size="24" text-anchor="middle">16</text>
<text x="1161.6" y="867.3" font-size="24" text-anchor="end">0.00</text>
<text x="1161.6" y="797.98" font-size="24" text-anchor="end">0.05</text>
<text x="1161.6" y="728.66" font-size="24" text-anchor="end">0.10</text>
<text x="1161.6" y="659.34" font-size="24" text-anchor="end">0.15</text>
<text x="1161.6" y="590.02" font-size="24" text-anchor="end">0.20</text>
<text x="1161.6" y="520.7" font-size="24" text-anchor="end">0.25</text>
<text x="1376.66" y="932" font-size="24" text-anchor="middle" textLength="56.3" lengthAdjust="spacing">B (T)</text>
<text x="1101.4" y="685.7" font-size="24" text-anchor="middle" transform="rotate(-90 1101.4 685.7)" textLength="276.7" lengthAdjust="spacing">E(B) − E(B = 0T) (meV)</text>
<text x="1255.1" y="528" font-size="24" text-anchor="middle" textLength="110.2" lengthAdjust="spacing">F<tspan dy="4" font-size="16.8">x</tspan><tspan dy="-4"> (V/µm)</tspan></text>
<line x1="1197.3" y1="560.8" x2="1249.4" y2="560.8" stroke="#420a68" stroke-width="2.6"/>
<text x="1268" y="569.4" font-size="24">10</text>
<line x1="1197.3" y1="596.2" x2="1249.4" y2="596.2" stroke="#932667" stroke-width="2.6"/>
<text x="1268" y="604.8" font-size="24">27.5</text>
<line x1="1197.3" y1="631.6" x2="1249.4" y2="631.6" stroke="#dd513a" stroke-width="2.6"/>
<text x="1268" y="640.2" font-size="24">30</text>
<line x1="1197.3" y1="667" x2="1249.4" y2="667" stroke="#fca50a" stroke-width="2.6"/>
<text x="1268" y="675.6" font-size="24">36</text></svg>
</body></html>
